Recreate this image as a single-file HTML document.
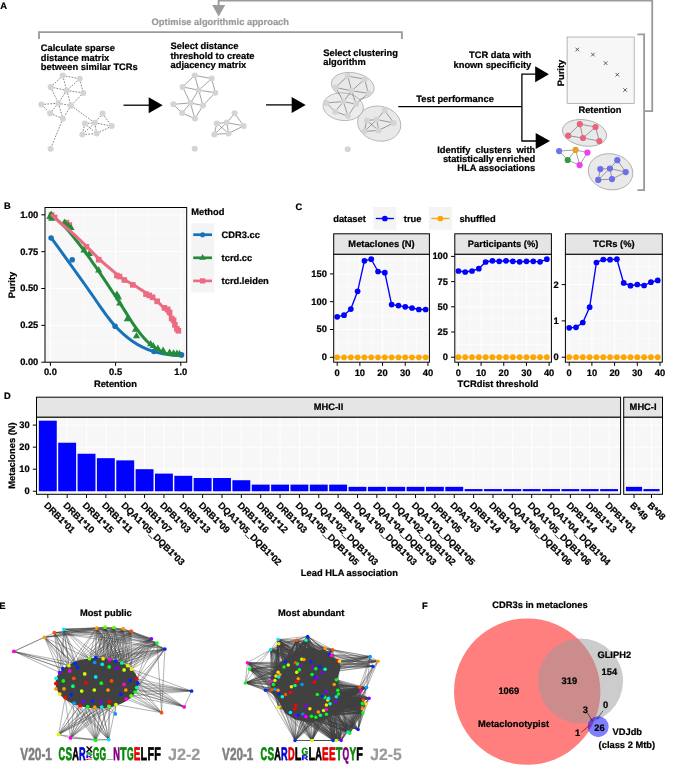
<!DOCTYPE html>
<html><head><meta charset="utf-8"><title>Figure</title>
<style>
html,body{margin:0;padding:0;background:#fff;}
body{width:685px;height:765px;overflow:hidden;}
svg{display:block;font-family:"Liberation Sans",sans-serif;font-weight:bold;will-change:transform;opacity:0.999;text-rendering:geometricPrecision;}
</style></head><body>
<svg width="685" height="765" viewBox="0 0 685 765">
<rect x="0" y="0" width="685" height="765" fill="#ffffff"/>
<g id="panelA">
<text x="0.30" y="9.10" text-anchor="start" fill="#000" stroke="#000" stroke-width="0.22" font-size="9.33" >A</text>
<path d="M218.6,5.5 L218.6,0.6 L652.2,0.6 L652.2,111.1 L644.1,111.1" fill="none" stroke="#9b9b9b" stroke-width="1.85"/>
<polygon points="212.2,5 225.2,5 218.7,16.4" fill="#9b9b9b"/>
<text x="151.60" y="24.80" text-anchor="start" fill="#9b9b9b" stroke="#9b9b9b" stroke-width="0.22" font-size="9.33" >Optimise algorithmic approach</text>
<path d="M39.0,38.9 L39.0,32.1 L401.9,32.1 L401.9,38.9" fill="none" stroke="#9b9b9b" stroke-width="1.85"/>
<path d="M637.4,34.3 L644.1,34.3 L644.1,190.1 L637.4,190.1" fill="none" stroke="#9b9b9b" stroke-width="1.85"/>
<text x="40.80" y="51.30" text-anchor="start" fill="#000" stroke="#000" stroke-width="0.22" font-size="9.33" >Calculate sparse</text>
<text x="40.80" y="60.60" text-anchor="start" fill="#000" stroke="#000" stroke-width="0.22" font-size="9.33" >distance matrix</text>
<text x="40.80" y="69.90" text-anchor="start" fill="#000" stroke="#000" stroke-width="0.22" font-size="9.33" >between similar TCRs</text>
<text x="170.50" y="49.30" text-anchor="start" fill="#000" stroke="#000" stroke-width="0.22" font-size="9.33" >Select distance</text>
<text x="170.50" y="58.70" text-anchor="start" fill="#000" stroke="#000" stroke-width="0.22" font-size="9.33" >threshold to create</text>
<text x="170.50" y="68.10" text-anchor="start" fill="#000" stroke="#000" stroke-width="0.22" font-size="9.33" >adjacency matrix</text>
<text x="323.30" y="55.90" text-anchor="start" fill="#000" stroke="#000" stroke-width="0.22" font-size="9.33" >Select clustering</text>
<text x="323.30" y="65.30" text-anchor="start" fill="#000" stroke="#000" stroke-width="0.22" font-size="9.33" >algorithm</text>
<path d="M62.7,75.6L79.7,78.8M62.7,75.6L50.6,87.1M62.7,75.6L66.7,90.4M79.7,78.8L66.7,90.4M79.7,78.8L83.3,92.9M50.6,87.1L66.7,90.4M66.7,90.4L83.3,92.9M50.6,87.1L58.4,103.2M66.7,90.4L58.4,103.2M66.7,90.4L71.0,105.7M83.3,92.9L71.0,105.7M41.3,104.5L58.4,103.2M58.4,103.2L71.0,105.7M41.3,104.5L50.1,113.3M58.4,103.2L50.1,113.3M58.4,103.2L62.9,118.8M71.0,105.7L62.9,118.8M50.1,113.3L62.9,118.8M102.6,113.5L94.8,122.8M102.6,113.5L111.7,126.1M84.8,123.6L94.8,122.8M94.8,122.8L111.7,126.1M84.8,123.6L82.3,134.6M94.8,122.8L82.3,134.6M94.8,122.8L96.6,133.6M111.7,126.1L96.6,133.6M82.3,134.6L96.6,133.6M84.8,123.6L96.6,133.6M62.9,118.8L50.6,148.7M71.0,105.7L94.8,122.8" fill="none" stroke="#333" stroke-width="0.6" stroke-dasharray="1.7 1.3"/>
<circle cx="62.7" cy="75.6" r="3" fill="#d4d4d4"/>
<circle cx="79.7" cy="78.8" r="3" fill="#d4d4d4"/>
<circle cx="50.6" cy="87.1" r="3" fill="#d4d4d4"/>
<circle cx="66.7" cy="90.4" r="3" fill="#d4d4d4"/>
<circle cx="83.3" cy="92.9" r="3" fill="#d4d4d4"/>
<circle cx="41.3" cy="104.5" r="3" fill="#d4d4d4"/>
<circle cx="58.4" cy="103.2" r="3" fill="#d4d4d4"/>
<circle cx="71.0" cy="105.7" r="3" fill="#d4d4d4"/>
<circle cx="50.1" cy="113.3" r="3" fill="#d4d4d4"/>
<circle cx="62.9" cy="118.8" r="3" fill="#d4d4d4"/>
<circle cx="50.6" cy="148.7" r="3" fill="#d4d4d4"/>
<circle cx="102.6" cy="113.5" r="3" fill="#d4d4d4"/>
<circle cx="84.8" cy="123.6" r="3" fill="#d4d4d4"/>
<circle cx="94.8" cy="122.8" r="3" fill="#d4d4d4"/>
<circle cx="111.7" cy="126.1" r="3" fill="#d4d4d4"/>
<circle cx="82.3" cy="134.6" r="3" fill="#d4d4d4"/>
<circle cx="96.6" cy="133.6" r="3" fill="#d4d4d4"/>
<path d="M194.7,75.4L211.7,78.6M194.7,75.4L182.6,86.9M194.7,75.4L198.7,90.2M211.7,78.6L198.7,90.2M211.7,78.6L215.3,92.7M182.6,86.9L198.7,90.2M198.7,90.2L215.3,92.7M182.6,86.9L190.4,103.0M198.7,90.2L190.4,103.0M198.7,90.2L203.0,105.5M215.3,92.7L203.0,105.5M173.3,104.3L190.4,103.0M190.4,103.0L203.0,105.5M173.3,104.3L182.1,113.1M190.4,103.0L182.1,113.1M190.4,103.0L194.9,118.6M203.0,105.5L194.9,118.6M182.1,113.1L194.9,118.6M234.6,113.3L226.8,122.6M234.6,113.3L243.7,125.9M216.8,123.4L226.8,122.6M226.8,122.6L243.7,125.9M216.8,123.4L214.3,134.4M226.8,122.6L214.3,134.4M226.8,122.6L228.6,133.4M243.7,125.9L228.6,133.4M214.3,134.4L228.6,133.4M216.8,123.4L228.6,133.4" fill="none" stroke="#555" stroke-width="0.55"/>
<circle cx="194.7" cy="75.4" r="3" fill="#d4d4d4"/>
<circle cx="211.7" cy="78.6" r="3" fill="#d4d4d4"/>
<circle cx="182.6" cy="86.9" r="3" fill="#d4d4d4"/>
<circle cx="198.7" cy="90.2" r="3" fill="#d4d4d4"/>
<circle cx="215.3" cy="92.7" r="3" fill="#d4d4d4"/>
<circle cx="173.3" cy="104.3" r="3" fill="#d4d4d4"/>
<circle cx="190.4" cy="103.0" r="3" fill="#d4d4d4"/>
<circle cx="203.0" cy="105.5" r="3" fill="#d4d4d4"/>
<circle cx="182.1" cy="113.1" r="3" fill="#d4d4d4"/>
<circle cx="194.9" cy="118.6" r="3" fill="#d4d4d4"/>
<circle cx="194.7" cy="148.7" r="3" fill="#d4d4d4"/>
<circle cx="234.6" cy="113.3" r="3" fill="#d4d4d4"/>
<circle cx="216.8" cy="123.4" r="3" fill="#d4d4d4"/>
<circle cx="226.8" cy="122.6" r="3" fill="#d4d4d4"/>
<circle cx="243.7" cy="125.9" r="3" fill="#d4d4d4"/>
<circle cx="214.3" cy="134.4" r="3" fill="#d4d4d4"/>
<circle cx="228.6" cy="133.4" r="3" fill="#d4d4d4"/>
<g fill="#e9e9e9" stroke="#8c8c8c" stroke-width="0.55">
<ellipse cx="352.8" cy="85.9" rx="21.6" ry="13.2" transform="rotate(10 352.8 85.9)"/>
<ellipse cx="379.2" cy="123.6" rx="21.8" ry="17.4" transform="rotate(12 379.2 123.6)"/>
<ellipse cx="343.2" cy="106.7" rx="20.2" ry="13.8" transform="rotate(6 343.2 106.7)" fill-opacity="0.85"/>
</g>
<path d="M347.7,76.0L364.7,79.2M347.7,76.0L335.6,87.5M347.7,76.0L351.7,90.8M364.7,79.2L351.7,90.8M364.7,79.2L368.3,93.3M335.6,87.5L351.7,90.8M351.7,90.8L368.3,93.3M335.6,87.5L343.4,101.6M351.7,90.8L343.4,101.6M351.7,90.8L356.0,104.1M368.3,93.3L356.0,104.1M326.3,102.9L343.4,101.6M343.4,101.6L356.0,104.1M326.3,102.9L335.1,111.7M343.4,101.6L335.1,111.7M343.4,101.6L347.9,116.0M356.0,104.1L347.9,116.0M335.1,111.7L347.9,116.0M384.6,110.3L376.8,119.6M384.6,110.3L393.7,122.9M366.8,120.4L376.8,119.6M376.8,119.6L393.7,122.9M366.8,120.4L364.3,131.4M376.8,119.6L364.3,131.4M376.8,119.6L378.6,130.4M393.7,122.9L378.6,130.4M364.3,131.4L378.6,130.4M366.8,120.4L378.6,130.4" fill="none" stroke="#555" stroke-width="0.55"/>
<circle cx="347.7" cy="76.0" r="3" fill="#d4d4d4"/>
<circle cx="364.7" cy="79.2" r="3" fill="#d4d4d4"/>
<circle cx="335.6" cy="87.5" r="3" fill="#d4d4d4"/>
<circle cx="351.7" cy="90.8" r="3" fill="#d4d4d4"/>
<circle cx="368.3" cy="93.3" r="3" fill="#d4d4d4"/>
<circle cx="326.3" cy="102.9" r="3" fill="#d4d4d4"/>
<circle cx="343.4" cy="101.6" r="3" fill="#d4d4d4"/>
<circle cx="356.0" cy="104.1" r="3" fill="#d4d4d4"/>
<circle cx="335.1" cy="111.7" r="3" fill="#d4d4d4"/>
<circle cx="347.9" cy="116.0" r="3" fill="#d4d4d4"/>
<circle cx="347.7" cy="149.3" r="3" fill="#d4d4d4"/>
<circle cx="384.6" cy="110.3" r="3" fill="#d4d4d4"/>
<circle cx="366.8" cy="120.4" r="3" fill="#d4d4d4"/>
<circle cx="376.8" cy="119.6" r="3" fill="#d4d4d4"/>
<circle cx="393.7" cy="122.9" r="3" fill="#d4d4d4"/>
<circle cx="364.3" cy="131.4" r="3" fill="#d4d4d4"/>
<circle cx="378.6" cy="130.4" r="3" fill="#d4d4d4"/>
<line x1="123.5" y1="105.2" x2="149.7" y2="105.2" stroke="#000" stroke-width="1.3"/>
<polygon points="148.7,97.2 148.7,113.2 162.7,105.2" fill="#000"/>
<line x1="266" y1="104.9" x2="292.7" y2="104.9" stroke="#000" stroke-width="1.3"/>
<polygon points="291.7,96.9 291.7,112.9 305.7,104.9" fill="#000"/>
<path d="M398.3,106.6 L521.9,106.6 M521.9,74.1 L521.9,141 M521.3,74.1 L536,74.1 M521.3,141 L536,141" fill="none" stroke="#000" stroke-width="1.3"/>
<polygon points="535.2,66.3 535.2,82.2 548.9,74.2" fill="#000"/>
<polygon points="535.7,133 535.7,148.9 550,140.9" fill="#000"/>
<text x="416.30" y="101.70" text-anchor="start" fill="#000" stroke="#000" stroke-width="0.22" font-size="9.33" >Test performance</text>
<text x="531.30" y="58.40" text-anchor="end" fill="#000" stroke="#000" stroke-width="0.22" font-size="9.33" >TCR data with</text>
<text x="531.30" y="67.80" text-anchor="end" fill="#000" stroke="#000" stroke-width="0.22" font-size="9.33" >known specificity</text>
<text x="535.20" y="152.70" text-anchor="end" fill="#000" stroke="#000" stroke-width="0.22" font-size="9.33" xml:space="preserve" style="white-space:pre">Identify  clusters  with</text>
<text x="535.20" y="162.00" text-anchor="end" fill="#000" stroke="#000" stroke-width="0.22" font-size="9.33" >statistically enriched</text>
<text x="535.20" y="171.30" text-anchor="end" fill="#000" stroke="#000" stroke-width="0.22" font-size="9.33" >HLA associations</text>
<rect x="567.1" y="37" width="67.1" height="66.3" fill="#f7f7f7" stroke="#999" stroke-width="0.7"/>
<path d="M575.5,47.7L579.0999999999999,51.3M575.5,51.3L579.0999999999999,47.7M591.1,52.800000000000004L594.6999999999999,56.4M591.1,56.4L594.6999999999999,52.800000000000004M603.8000000000001,61.300000000000004L607.4,64.9M603.8000000000001,64.9L607.4,61.300000000000004M615.5,72.9L619.0999999999999,76.5M615.5,76.5L619.0999999999999,72.9M623.3000000000001,88.2L626.9,91.8M623.3000000000001,91.8L626.9,88.2" stroke="#111" stroke-width="0.65" fill="none"/>
<text x="599.90" y="113.40" text-anchor="middle" fill="#000" stroke="#000" stroke-width="0.22" font-size="9.33" >Retention</text>
<text stroke="#000" stroke-width="0.22" transform="translate(563.9,73) rotate(-90)" text-anchor="middle" font-size="9.33">Purity</text>
<g fill="#e9e9e9" stroke="#777" stroke-width="0.5">
<ellipse cx="584.5" cy="132.9" rx="22.3" ry="13.0" transform="rotate(10 584.5 132.9)"/>
<ellipse cx="610.6" cy="171.8" rx="22.4" ry="18.0" transform="rotate(10 610.6 171.8)"/>
</g>
<path d="M579.8,124.1L595.5,127M579.8,124.1L568.2,135.7M579.8,124.1L583,138M595.5,127L583,138M595.5,127L599.3,141M568.2,135.7L583,138M583,138L599.3,141M559.1,151.1L575.6,149.9M575.6,149.9L587.4,152.6M575.6,149.9L567.7,160M575.6,149.9L579.6,165.1M587.4,152.6L579.6,165.1M567.7,160L579.6,165.1M559.1,151.1L567.7,160M617.3,160.2L609.9,168.5M617.3,160.2L625.7,172.1M600.3,169.1L609.9,168.5M609.9,168.5L625.7,172.1M600.3,169.1L598.2,179.9M609.9,168.5L598.2,179.9M609.9,168.5L612,179.1M625.7,172.1L612,179.1M598.2,179.9L612,179.1" stroke="#444" stroke-width="0.5" fill="none"/>
<circle cx="579.8" cy="124.1" r="3.1" fill="#e8647f"/>
<circle cx="595.5" cy="127" r="3.1" fill="#e8647f"/>
<circle cx="568.2" cy="135.7" r="3.1" fill="#e8647f"/>
<circle cx="583" cy="138" r="3.1" fill="#e8647f"/>
<circle cx="599.3" cy="141" r="3.1" fill="#e8647f"/>
<circle cx="559.1" cy="151.1" r="3.1" fill="#6f73e6"/>
<circle cx="575.6" cy="149.9" r="3.1" fill="#e6a02d"/>
<circle cx="587.4" cy="152.6" r="3.1" fill="#f23df0"/>
<circle cx="567.7" cy="160" r="3.1" fill="#2e9e3c"/>
<circle cx="579.6" cy="165.1" r="3.1" fill="#f23df0"/>
<circle cx="617.3" cy="160.2" r="3.1" fill="#6b70e8"/>
<circle cx="600.3" cy="169.1" r="3.1" fill="#6b70e8"/>
<circle cx="609.9" cy="168.5" r="3.1" fill="#6b70e8"/>
<circle cx="625.7" cy="172.1" r="3.1" fill="#6b70e8"/>
<circle cx="598.2" cy="179.9" r="3.1" fill="#6b70e8"/>
<circle cx="612" cy="179.1" r="3.1" fill="#6b70e8"/>
</g>
<g id="panelB">
<text x="3.90" y="209.40" text-anchor="start" fill="#000" stroke="#000" stroke-width="0.22" font-size="9.33" >B</text>
<rect x="45.0" y="207.5" width="141.7" height="154.7" fill="#f7f7f7"/>
<path d="M83.00,207.5V362.2M148.20,207.5V362.2M45.0,343.77H186.7M45.0,306.93H186.7M45.0,270.07H186.7M45.0,233.23H186.7" stroke="#fff" stroke-width="0.5" fill="none"/>
<path d="M50.40,207.5V362.2M115.60,207.5V362.2M180.80,207.5V362.2M45.0,325.35H186.7M45.0,288.50H186.7M45.0,251.65H186.7M45.0,214.80H186.7" stroke="#fff" stroke-width="1" fill="none"/>
<rect x="48.80" y="212.20" width="5.6" height="5.6" fill="#ec6a82"/>
<rect x="51.80" y="214.60" width="5.6" height="5.6" fill="#ec6a82"/>
<rect x="63.60" y="219.80" width="5.6" height="5.6" fill="#ec6a82"/>
<rect x="66.50" y="222.20" width="5.6" height="5.6" fill="#ec6a82"/>
<rect x="83.60" y="244.00" width="5.6" height="5.6" fill="#ec6a82"/>
<rect x="95.90" y="256.90" width="5.6" height="5.6" fill="#ec6a82"/>
<rect x="114.10" y="272.70" width="5.6" height="5.6" fill="#ec6a82"/>
<rect x="116.70" y="273.80" width="5.6" height="5.6" fill="#ec6a82"/>
<rect x="121.50" y="277.20" width="5.6" height="5.6" fill="#ec6a82"/>
<rect x="130.00" y="282.10" width="5.6" height="5.6" fill="#ec6a82"/>
<rect x="143.20" y="291.30" width="5.6" height="5.6" fill="#ec6a82"/>
<rect x="146.50" y="292.60" width="5.6" height="5.6" fill="#ec6a82"/>
<rect x="149.80" y="294.50" width="5.6" height="5.6" fill="#ec6a82"/>
<rect x="154.40" y="298.50" width="5.6" height="5.6" fill="#ec6a82"/>
<rect x="161.60" y="305.00" width="5.6" height="5.6" fill="#ec6a82"/>
<rect x="164.90" y="306.60" width="5.6" height="5.6" fill="#ec6a82"/>
<rect x="166.80" y="309.60" width="5.6" height="5.6" fill="#ec6a82"/>
<rect x="168.80" y="315.60" width="5.6" height="5.6" fill="#ec6a82"/>
<rect x="170.80" y="317.50" width="5.6" height="5.6" fill="#ec6a82"/>
<rect x="172.10" y="322.10" width="5.6" height="5.6" fill="#ec6a82"/>
<rect x="174.10" y="326.10" width="5.6" height="5.6" fill="#ec6a82"/>
<rect x="175.60" y="328.00" width="5.6" height="5.6" fill="#ec6a82"/>
<polygon points="51.10,210.40 47.50,216.60 54.70,216.60" fill="#238b3a"/>
<polygon points="49.90,212.80 46.30,219.00 53.50,219.00" fill="#238b3a"/>
<polygon points="51.60,214.50 48.00,220.70 55.20,220.70" fill="#238b3a"/>
<polygon points="64.60,218.60 61.00,224.80 68.20,224.80" fill="#238b3a"/>
<polygon points="68.10,221.60 64.50,227.80 71.70,227.80" fill="#238b3a"/>
<polygon points="71.10,223.90 67.50,230.10 74.70,230.10" fill="#238b3a"/>
<polygon points="84.00,246.30 80.40,252.50 87.60,252.50" fill="#238b3a"/>
<polygon points="89.30,249.80 85.70,256.00 92.90,256.00" fill="#238b3a"/>
<polygon points="98.70,266.30 95.10,272.50 102.30,272.50" fill="#238b3a"/>
<polygon points="116.90,290.40 113.30,296.60 120.50,296.60" fill="#238b3a"/>
<polygon points="118.40,293.30 114.80,299.50 122.00,299.50" fill="#238b3a"/>
<polygon points="119.70,299.20 116.10,305.40 123.30,305.40" fill="#238b3a"/>
<polygon points="127.30,315.00 123.70,321.20 130.90,321.20" fill="#238b3a"/>
<polygon points="135.50,325.50 131.90,331.70 139.10,331.70" fill="#238b3a"/>
<polygon points="136.50,332.10 132.90,338.30 140.10,338.30" fill="#238b3a"/>
<polygon points="150.60,340.00 147.00,346.20 154.20,346.20" fill="#238b3a"/>
<polygon points="153.20,341.90 149.60,348.10 156.80,348.10" fill="#238b3a"/>
<polygon points="157.80,344.60 154.20,350.80 161.40,350.80" fill="#238b3a"/>
<polygon points="163.10,346.50 159.50,352.70 166.70,352.70" fill="#238b3a"/>
<polygon points="169.60,348.50 166.00,354.70 173.20,354.70" fill="#238b3a"/>
<polygon points="173.60,349.20 170.00,355.40 177.20,355.40" fill="#238b3a"/>
<polygon points="176.90,349.60 173.30,355.80 180.50,355.80" fill="#238b3a"/>
<polygon points="179.50,349.80 175.90,356.00 183.10,356.00" fill="#238b3a"/>
<circle cx="51.10" cy="238.00" r="2.8" fill="#1673b9"/>
<circle cx="72.20" cy="259.70" r="2.8" fill="#1673b9"/>
<circle cx="115.10" cy="326.20" r="2.8" fill="#1673b9"/>
<circle cx="153.90" cy="351.50" r="2.8" fill="#1673b9"/>
<circle cx="181.50" cy="354.90" r="2.8" fill="#1673b9"/>
<path d="M51.10,237.60C52.85,240.02 57.88,246.95 61.60,252.10C65.32,257.25 69.47,263.02 73.40,268.50C77.33,273.98 82.07,280.58 85.20,285.00C88.33,289.42 89.73,291.45 92.20,295.00C94.67,298.55 97.38,302.60 100.00,306.30C102.62,310.00 105.38,313.92 107.90,317.20C110.42,320.48 112.47,323.15 115.10,326.00C117.73,328.85 120.75,331.73 123.70,334.30C126.65,336.87 129.75,339.32 132.80,341.40C135.85,343.48 138.70,345.17 142.00,346.80C145.30,348.43 149.08,350.02 152.60,351.20C156.12,352.38 159.60,353.23 163.10,353.90C166.60,354.57 170.53,354.97 173.60,355.20C176.67,355.43 180.18,355.28 181.50,355.30" fill="none" stroke="#1673b9" stroke-width="3.0" stroke-linecap="butt"/>
<path d="M51.10,214.40C52.42,215.58 56.27,218.95 59.00,221.50C61.73,224.05 64.12,225.92 67.50,229.70C70.88,233.48 76.35,240.48 79.30,244.20C82.25,247.92 83.23,249.32 85.20,252.00C87.17,254.68 88.75,256.95 91.10,260.30C93.45,263.65 96.75,268.38 99.30,272.10C101.85,275.82 103.85,278.78 106.40,282.60C108.95,286.42 112.60,292.00 114.60,295.00C116.60,298.00 116.45,297.58 118.40,300.60C120.35,303.62 123.67,308.97 126.30,313.10C128.93,317.23 131.58,321.62 134.20,325.40C136.82,329.18 139.38,332.70 142.00,335.80C144.62,338.90 147.27,341.68 149.90,344.00C152.53,346.32 155.17,348.15 157.80,349.70C160.43,351.25 163.07,352.40 165.70,353.30C168.33,354.20 170.97,354.68 173.60,355.10C176.23,355.52 180.18,355.68 181.50,355.80" fill="none" stroke="#238b3a" stroke-width="3.0"/>
<path d="M51.10,214.40C52.85,215.97 57.88,220.57 61.60,223.80C65.32,227.03 69.47,230.27 73.40,233.80C77.33,237.33 81.28,241.17 85.20,245.00C89.12,248.83 92.98,253.07 96.90,256.80C100.82,260.53 105.37,264.47 108.70,267.40C112.03,270.33 114.35,272.38 116.90,274.40C119.45,276.42 121.12,277.70 124.00,279.50C126.88,281.30 130.75,283.10 134.20,285.20C137.65,287.30 141.20,289.70 144.70,292.10C148.20,294.50 152.13,297.08 155.20,299.60C158.27,302.12 160.70,304.70 163.10,307.20C165.50,309.70 167.85,312.30 169.60,314.60C171.35,316.90 172.50,318.90 173.60,321.00C174.70,323.10 175.37,325.45 176.20,327.20C177.03,328.95 178.20,330.78 178.60,331.50" fill="none" stroke="#ec6a82" stroke-width="3.0"/>
<rect x="45.0" y="207.5" width="141.7" height="154.7" fill="none" stroke="#000" stroke-width="1"/>
<text x="38.30" y="365.10" text-anchor="end" fill="#000" stroke="#000" stroke-width="0.22" font-size="9.33" >0.00</text>
<text x="38.30" y="328.25" text-anchor="end" fill="#000" stroke="#000" stroke-width="0.22" font-size="9.33" >0.25</text>
<text x="38.30" y="291.40" text-anchor="end" fill="#000" stroke="#000" stroke-width="0.22" font-size="9.33" >0.50</text>
<text x="38.30" y="254.55" text-anchor="end" fill="#000" stroke="#000" stroke-width="0.22" font-size="9.33" >0.75</text>
<text x="38.30" y="217.70" text-anchor="end" fill="#000" stroke="#000" stroke-width="0.22" font-size="9.33" >1.00</text>
<text x="50.40" y="375.10" text-anchor="middle" fill="#000" stroke="#000" stroke-width="0.22" font-size="9.33" >0.0</text>
<text x="115.60" y="375.10" text-anchor="middle" fill="#000" stroke="#000" stroke-width="0.22" font-size="9.33" >0.5</text>
<text x="180.80" y="375.10" text-anchor="middle" fill="#000" stroke="#000" stroke-width="0.22" font-size="9.33" >1.0</text>
<path d="M41.3,362.20H45.0M41.3,325.35H45.0M41.3,288.50H45.0M41.3,251.65H45.0M41.3,214.80H45.0M50.40,362.2v3.7M115.60,362.2v3.7M180.80,362.2v3.7" stroke="#000" stroke-width="1" fill="none"/>
<text x="115.40" y="386.70" text-anchor="middle" fill="#000" stroke="#000" stroke-width="0.22" font-size="9.33" >Retention</text>
<text stroke="#000" stroke-width="0.22" transform="translate(14.7,285) rotate(-90)" text-anchor="middle" font-size="9.33">Purity</text>
<text x="191.20" y="214.80" text-anchor="start" fill="#000" stroke="#000" stroke-width="0.22" font-size="9.33" >Method</text>
<rect x="191.2" y="223.2" width="23.2" height="69.2" fill="#f4f4f4"/>
<line x1="193.2" x2="212" y1="234.7" y2="234.7" stroke="#1673b9" stroke-width="2.7"/>
<circle cx="202.6" cy="234.7" r="2.55" fill="#1673b9"/>
<text x="221.60" y="237.90" text-anchor="start" fill="#000" stroke="#000" stroke-width="0.22" font-size="9.33" >CDR3.cc</text>
<line x1="193.2" x2="212" y1="257.8" y2="257.8" stroke="#238b3a" stroke-width="2.7"/>
<polygon points="202.6,254.10000000000002 199.29999999999998,259.8 205.9,259.8" fill="#238b3a"/>
<text x="221.60" y="261.00" text-anchor="start" fill="#000" stroke="#000" stroke-width="0.22" font-size="9.33" >tcrd.cc</text>
<line x1="193.2" x2="212" y1="280.9" y2="280.9" stroke="#ec6a82" stroke-width="2.7"/>
<rect x="200.0" y="278.29999999999995" width="5.2" height="5.2" fill="#ec6a82"/>
<text x="221.60" y="284.10" text-anchor="start" fill="#000" stroke="#000" stroke-width="0.22" font-size="9.33" >tcrd.leiden</text>
</g>
<g id="panelC">
<text x="295.60" y="209.50" text-anchor="start" fill="#000" stroke="#000" stroke-width="0.22" font-size="9.33" >C</text>
<text x="333.20" y="221.60" text-anchor="start" fill="#000" stroke="#000" stroke-width="0.22" font-size="9.33" >dataset</text>
<rect x="373.4" y="207.0" width="22.9" height="22.9" fill="#f4f4f4"/>
<line x1="375.8" x2="393.9" y1="218.5" y2="218.5" stroke="#0000ff" stroke-width="1.35"/><circle cx="384.85" cy="218.5" r="2.85" fill="#0000ff"/>
<text x="403.80" y="221.60" text-anchor="start" fill="#000" stroke="#000" stroke-width="0.22" font-size="9.33" >true</text>
<rect x="428.9" y="207.0" width="22.9" height="22.9" fill="#f4f4f4"/>
<line x1="431.3" x2="449.4" y1="218.5" y2="218.5" stroke="#ffa500" stroke-width="1.35"/><circle cx="440.35" cy="218.5" r="2.85" fill="#ffa500"/>
<text x="459.40" y="221.60" text-anchor="start" fill="#000" stroke="#000" stroke-width="0.22" font-size="9.33" >shuffled</text>
<rect x="333.7" y="254.2" width="95.70" height="108.00" fill="#f7f7f7"/>
<path d="M348.54,254.2V362.2M371.22,254.2V362.2M393.90,254.2V362.2M416.58,254.2V362.2M333.7,343.40H429.4M333.7,315.60H429.4M333.7,287.80H429.4M333.7,260.00H429.4" stroke="#fff" stroke-width="0.5" fill="none"/>
<path d="M337.20,254.2V362.2M359.88,254.2V362.2M382.56,254.2V362.2M405.24,254.2V362.2M427.92,254.2V362.2M333.7,357.30H429.4M333.7,329.50H429.4M333.7,301.70H429.4M333.7,273.90H429.4" stroke="#fff" stroke-width="1" fill="none"/>
<polyline points="337.20,316.80 344.00,315.20 350.81,309.10 357.61,291.30 364.42,260.80 371.22,259.20 378.02,271.50 384.83,272.70 391.63,304.60 398.44,305.60 405.24,306.80 412.04,308.00 418.85,309.50 425.65,309.50" fill="none" stroke="#0000ff" stroke-width="1.35"/>
<line x1="337.20" x2="425.65" y1="357.3" y2="357.3" stroke="#ffa500" stroke-width="1.1"/>
<circle cx="337.20" cy="316.80" r="2.85" fill="#0000ff"/>
<circle cx="344.00" cy="315.20" r="2.85" fill="#0000ff"/>
<circle cx="350.81" cy="309.10" r="2.85" fill="#0000ff"/>
<circle cx="357.61" cy="291.30" r="2.85" fill="#0000ff"/>
<circle cx="364.42" cy="260.80" r="2.85" fill="#0000ff"/>
<circle cx="371.22" cy="259.20" r="2.85" fill="#0000ff"/>
<circle cx="378.02" cy="271.50" r="2.85" fill="#0000ff"/>
<circle cx="384.83" cy="272.70" r="2.85" fill="#0000ff"/>
<circle cx="391.63" cy="304.60" r="2.85" fill="#0000ff"/>
<circle cx="398.44" cy="305.60" r="2.85" fill="#0000ff"/>
<circle cx="405.24" cy="306.80" r="2.85" fill="#0000ff"/>
<circle cx="412.04" cy="308.00" r="2.85" fill="#0000ff"/>
<circle cx="418.85" cy="309.50" r="2.85" fill="#0000ff"/>
<circle cx="425.65" cy="309.50" r="2.85" fill="#0000ff"/>
<circle cx="337.20" cy="357.3" r="2.85" fill="#ffa500"/>
<circle cx="344.00" cy="357.3" r="2.85" fill="#ffa500"/>
<circle cx="350.81" cy="357.3" r="2.85" fill="#ffa500"/>
<circle cx="357.61" cy="357.3" r="2.85" fill="#ffa500"/>
<circle cx="364.42" cy="357.3" r="2.85" fill="#ffa500"/>
<circle cx="371.22" cy="357.3" r="2.85" fill="#ffa500"/>
<circle cx="378.02" cy="357.3" r="2.85" fill="#ffa500"/>
<circle cx="384.83" cy="357.3" r="2.85" fill="#ffa500"/>
<circle cx="391.63" cy="357.3" r="2.85" fill="#ffa500"/>
<circle cx="398.44" cy="357.3" r="2.85" fill="#ffa500"/>
<circle cx="405.24" cy="357.3" r="2.85" fill="#ffa500"/>
<circle cx="412.04" cy="357.3" r="2.85" fill="#ffa500"/>
<circle cx="418.85" cy="357.3" r="2.85" fill="#ffa500"/>
<circle cx="425.65" cy="357.3" r="2.85" fill="#ffa500"/>
<rect x="333.7" y="254.2" width="95.70" height="108.00" fill="none" stroke="#000" stroke-width="1"/>
<rect x="333.7" y="233.8" width="95.70" height="20.40" fill="#e5e5e5" stroke="#000" stroke-width="1"/>
<text x="381.55" y="247.40" text-anchor="middle" fill="#000" stroke="#000" stroke-width="0.22" font-size="9.33" >Metaclones (N)</text>
<text x="326.90" y="360.20" text-anchor="end" fill="#000" stroke="#000" stroke-width="0.22" font-size="9.33" >0</text>
<text x="326.90" y="332.40" text-anchor="end" fill="#000" stroke="#000" stroke-width="0.22" font-size="9.33" >50</text>
<text x="326.90" y="304.60" text-anchor="end" fill="#000" stroke="#000" stroke-width="0.22" font-size="9.33" >100</text>
<text x="326.90" y="276.80" text-anchor="end" fill="#000" stroke="#000" stroke-width="0.22" font-size="9.33" >150</text>
<text x="337.20" y="375.80" text-anchor="middle" fill="#000" stroke="#000" stroke-width="0.22" font-size="9.33" >0</text>
<text x="359.88" y="375.80" text-anchor="middle" fill="#000" stroke="#000" stroke-width="0.22" font-size="9.33" >10</text>
<text x="382.56" y="375.80" text-anchor="middle" fill="#000" stroke="#000" stroke-width="0.22" font-size="9.33" >20</text>
<text x="405.24" y="375.80" text-anchor="middle" fill="#000" stroke="#000" stroke-width="0.22" font-size="9.33" >30</text>
<text x="427.92" y="375.80" text-anchor="middle" fill="#000" stroke="#000" stroke-width="0.22" font-size="9.33" >40</text>
<path d="M330.0,357.30H333.7M330.0,329.50H333.7M330.0,301.70H333.7M330.0,273.90H333.7M337.20,362.2v3.7M359.88,362.2v3.7M382.56,362.2v3.7M405.24,362.2v3.7M427.92,362.2v3.7" stroke="#000" stroke-width="1" fill="none"/>
<rect x="454.8" y="254.2" width="96.60" height="108.00" fill="#f7f7f7"/>
<path d="M469.74,254.2V362.2M492.42,254.2V362.2M515.10,254.2V362.2M537.78,254.2V362.2M454.8,344.60H551.4M454.8,319.40H551.4M454.8,294.20H551.4M454.8,269.00H551.4" stroke="#fff" stroke-width="0.5" fill="none"/>
<path d="M458.40,254.2V362.2M481.08,254.2V362.2M503.76,254.2V362.2M526.44,254.2V362.2M549.12,254.2V362.2M454.8,357.20H551.4M454.8,332.00H551.4M454.8,306.80H551.4M454.8,281.60H551.4M454.8,256.40H551.4" stroke="#fff" stroke-width="1" fill="none"/>
<polyline points="458.40,271.00 465.20,272.00 472.01,271.00 478.81,268.70 485.62,262.00 492.42,260.80 499.22,261.30 506.03,260.80 512.83,261.30 519.64,261.80 526.44,261.30 533.24,261.30 540.05,261.80 546.85,259.20" fill="none" stroke="#0000ff" stroke-width="1.35"/>
<line x1="458.40" x2="546.85" y1="357.2" y2="357.2" stroke="#ffa500" stroke-width="1.1"/>
<circle cx="458.40" cy="271.00" r="2.85" fill="#0000ff"/>
<circle cx="465.20" cy="272.00" r="2.85" fill="#0000ff"/>
<circle cx="472.01" cy="271.00" r="2.85" fill="#0000ff"/>
<circle cx="478.81" cy="268.70" r="2.85" fill="#0000ff"/>
<circle cx="485.62" cy="262.00" r="2.85" fill="#0000ff"/>
<circle cx="492.42" cy="260.80" r="2.85" fill="#0000ff"/>
<circle cx="499.22" cy="261.30" r="2.85" fill="#0000ff"/>
<circle cx="506.03" cy="260.80" r="2.85" fill="#0000ff"/>
<circle cx="512.83" cy="261.30" r="2.85" fill="#0000ff"/>
<circle cx="519.64" cy="261.80" r="2.85" fill="#0000ff"/>
<circle cx="526.44" cy="261.30" r="2.85" fill="#0000ff"/>
<circle cx="533.24" cy="261.30" r="2.85" fill="#0000ff"/>
<circle cx="540.05" cy="261.80" r="2.85" fill="#0000ff"/>
<circle cx="546.85" cy="259.20" r="2.85" fill="#0000ff"/>
<circle cx="458.40" cy="357.2" r="2.85" fill="#ffa500"/>
<circle cx="465.20" cy="357.2" r="2.85" fill="#ffa500"/>
<circle cx="472.01" cy="357.2" r="2.85" fill="#ffa500"/>
<circle cx="478.81" cy="357.2" r="2.85" fill="#ffa500"/>
<circle cx="485.62" cy="357.2" r="2.85" fill="#ffa500"/>
<circle cx="492.42" cy="357.2" r="2.85" fill="#ffa500"/>
<circle cx="499.22" cy="357.2" r="2.85" fill="#ffa500"/>
<circle cx="506.03" cy="357.2" r="2.85" fill="#ffa500"/>
<circle cx="512.83" cy="357.2" r="2.85" fill="#ffa500"/>
<circle cx="519.64" cy="357.2" r="2.85" fill="#ffa500"/>
<circle cx="526.44" cy="357.2" r="2.85" fill="#ffa500"/>
<circle cx="533.24" cy="357.2" r="2.85" fill="#ffa500"/>
<circle cx="540.05" cy="357.2" r="2.85" fill="#ffa500"/>
<circle cx="546.85" cy="357.2" r="2.85" fill="#ffa500"/>
<rect x="454.8" y="254.2" width="96.60" height="108.00" fill="none" stroke="#000" stroke-width="1"/>
<rect x="454.8" y="233.8" width="96.60" height="20.40" fill="#e5e5e5" stroke="#000" stroke-width="1"/>
<text x="503.10" y="247.40" text-anchor="middle" fill="#000" stroke="#000" stroke-width="0.22" font-size="9.33" >Participants (%)</text>
<text x="448.00" y="360.10" text-anchor="end" fill="#000" stroke="#000" stroke-width="0.22" font-size="9.33" >0</text>
<text x="448.00" y="334.90" text-anchor="end" fill="#000" stroke="#000" stroke-width="0.22" font-size="9.33" >25</text>
<text x="448.00" y="309.70" text-anchor="end" fill="#000" stroke="#000" stroke-width="0.22" font-size="9.33" >50</text>
<text x="448.00" y="284.50" text-anchor="end" fill="#000" stroke="#000" stroke-width="0.22" font-size="9.33" >75</text>
<text x="448.00" y="259.30" text-anchor="end" fill="#000" stroke="#000" stroke-width="0.22" font-size="9.33" >100</text>
<text x="458.40" y="375.80" text-anchor="middle" fill="#000" stroke="#000" stroke-width="0.22" font-size="9.33" >0</text>
<text x="481.08" y="375.80" text-anchor="middle" fill="#000" stroke="#000" stroke-width="0.22" font-size="9.33" >10</text>
<text x="503.76" y="375.80" text-anchor="middle" fill="#000" stroke="#000" stroke-width="0.22" font-size="9.33" >20</text>
<text x="526.44" y="375.80" text-anchor="middle" fill="#000" stroke="#000" stroke-width="0.22" font-size="9.33" >30</text>
<text x="549.12" y="375.80" text-anchor="middle" fill="#000" stroke="#000" stroke-width="0.22" font-size="9.33" >40</text>
<path d="M451.1,357.20H454.8M451.1,332.00H454.8M451.1,306.80H454.8M451.1,281.60H454.8M451.1,256.40H454.8M458.40,362.2v3.7M481.08,362.2v3.7M503.76,362.2v3.7M526.44,362.2v3.7M549.12,362.2v3.7" stroke="#000" stroke-width="1" fill="none"/>
<rect x="565.4" y="254.2" width="96.90" height="108.00" fill="#f7f7f7"/>
<path d="M580.55,254.2V362.2M603.25,254.2V362.2M625.95,254.2V362.2M648.65,254.2V362.2M565.4,339.05H662.3M565.4,302.75H662.3M565.4,266.45H662.3" stroke="#fff" stroke-width="0.5" fill="none"/>
<path d="M569.20,254.2V362.2M591.90,254.2V362.2M614.60,254.2V362.2M637.30,254.2V362.2M660.00,254.2V362.2M565.4,357.20H662.3M565.4,320.90H662.3M565.4,284.60H662.3" stroke="#fff" stroke-width="1" fill="none"/>
<polyline points="569.20,327.80 576.01,327.30 582.82,322.50 589.63,307.20 596.44,262.50 603.25,259.50 610.06,259.70 616.87,259.20 623.68,282.90 630.49,285.70 637.30,284.50 644.11,285.50 650.92,282.20 657.73,280.40" fill="none" stroke="#0000ff" stroke-width="1.35"/>
<line x1="569.20" x2="657.73" y1="357.2" y2="357.2" stroke="#ffa500" stroke-width="1.1"/>
<circle cx="569.20" cy="327.80" r="2.85" fill="#0000ff"/>
<circle cx="576.01" cy="327.30" r="2.85" fill="#0000ff"/>
<circle cx="582.82" cy="322.50" r="2.85" fill="#0000ff"/>
<circle cx="589.63" cy="307.20" r="2.85" fill="#0000ff"/>
<circle cx="596.44" cy="262.50" r="2.85" fill="#0000ff"/>
<circle cx="603.25" cy="259.50" r="2.85" fill="#0000ff"/>
<circle cx="610.06" cy="259.70" r="2.85" fill="#0000ff"/>
<circle cx="616.87" cy="259.20" r="2.85" fill="#0000ff"/>
<circle cx="623.68" cy="282.90" r="2.85" fill="#0000ff"/>
<circle cx="630.49" cy="285.70" r="2.85" fill="#0000ff"/>
<circle cx="637.30" cy="284.50" r="2.85" fill="#0000ff"/>
<circle cx="644.11" cy="285.50" r="2.85" fill="#0000ff"/>
<circle cx="650.92" cy="282.20" r="2.85" fill="#0000ff"/>
<circle cx="657.73" cy="280.40" r="2.85" fill="#0000ff"/>
<circle cx="569.20" cy="357.2" r="2.85" fill="#ffa500"/>
<circle cx="576.01" cy="357.2" r="2.85" fill="#ffa500"/>
<circle cx="582.82" cy="357.2" r="2.85" fill="#ffa500"/>
<circle cx="589.63" cy="357.2" r="2.85" fill="#ffa500"/>
<circle cx="596.44" cy="357.2" r="2.85" fill="#ffa500"/>
<circle cx="603.25" cy="357.2" r="2.85" fill="#ffa500"/>
<circle cx="610.06" cy="357.2" r="2.85" fill="#ffa500"/>
<circle cx="616.87" cy="357.2" r="2.85" fill="#ffa500"/>
<circle cx="623.68" cy="357.2" r="2.85" fill="#ffa500"/>
<circle cx="630.49" cy="357.2" r="2.85" fill="#ffa500"/>
<circle cx="637.30" cy="357.2" r="2.85" fill="#ffa500"/>
<circle cx="644.11" cy="357.2" r="2.85" fill="#ffa500"/>
<circle cx="650.92" cy="357.2" r="2.85" fill="#ffa500"/>
<circle cx="657.73" cy="357.2" r="2.85" fill="#ffa500"/>
<rect x="565.4" y="254.2" width="96.90" height="108.00" fill="none" stroke="#000" stroke-width="1"/>
<rect x="565.4" y="233.8" width="96.90" height="20.40" fill="#e5e5e5" stroke="#000" stroke-width="1"/>
<text x="613.85" y="247.40" text-anchor="middle" fill="#000" stroke="#000" stroke-width="0.22" font-size="9.33" >TCRs (%)</text>
<text x="558.60" y="360.10" text-anchor="end" fill="#000" stroke="#000" stroke-width="0.22" font-size="9.33" >0</text>
<text x="558.60" y="323.80" text-anchor="end" fill="#000" stroke="#000" stroke-width="0.22" font-size="9.33" >1</text>
<text x="558.60" y="287.50" text-anchor="end" fill="#000" stroke="#000" stroke-width="0.22" font-size="9.33" >2</text>
<text x="569.20" y="375.80" text-anchor="middle" fill="#000" stroke="#000" stroke-width="0.22" font-size="9.33" >0</text>
<text x="591.90" y="375.80" text-anchor="middle" fill="#000" stroke="#000" stroke-width="0.22" font-size="9.33" >10</text>
<text x="614.60" y="375.80" text-anchor="middle" fill="#000" stroke="#000" stroke-width="0.22" font-size="9.33" >20</text>
<text x="637.30" y="375.80" text-anchor="middle" fill="#000" stroke="#000" stroke-width="0.22" font-size="9.33" >30</text>
<text x="660.00" y="375.80" text-anchor="middle" fill="#000" stroke="#000" stroke-width="0.22" font-size="9.33" >40</text>
<path d="M561.6999999999999,357.20H565.4M561.6999999999999,320.90H565.4M561.6999999999999,284.60H565.4M569.20,362.2v3.7M591.90,362.2v3.7M614.60,362.2v3.7M637.30,362.2v3.7M660.00,362.2v3.7" stroke="#000" stroke-width="1" fill="none"/>
<text x="498.00" y="386.80" text-anchor="middle" fill="#000" stroke="#000" stroke-width="0.22" font-size="9.33" >TCRdist threshold</text>
</g>
<g id="panelD">
<text x="3.90" y="399.30" text-anchor="start" fill="#000" stroke="#000" stroke-width="0.22" font-size="9.33" >D</text>
<rect x="36.5" y="417.1" width="584.10" height="77.20" fill="#f7f7f7"/>
<path d="M36.5,480.23H620.6M36.5,458.18H620.6M36.5,436.12H620.6" stroke="#fff" stroke-width="0.5" fill="none"/>
<path d="M36.5,491.25H620.6M36.5,469.20H620.6M36.5,447.15H620.6M36.5,425.10H620.6M47.80,417.1V494.3M67.16,417.1V494.3M86.51,417.1V494.3M105.86,417.1V494.3M125.22,417.1V494.3M144.57,417.1V494.3M163.93,417.1V494.3M183.29,417.1V494.3M202.64,417.1V494.3M222.00,417.1V494.3M241.35,417.1V494.3M260.70,417.1V494.3M280.06,417.1V494.3M299.42,417.1V494.3M318.77,417.1V494.3M338.12,417.1V494.3M357.48,417.1V494.3M376.84,417.1V494.3M396.19,417.1V494.3M415.55,417.1V494.3M434.90,417.1V494.3M454.25,417.1V494.3M473.61,417.1V494.3M492.97,417.1V494.3M512.32,417.1V494.3M531.67,417.1V494.3M551.03,417.1V494.3M570.38,417.1V494.3M589.74,417.1V494.3M609.09,417.1V494.3" stroke="#fff" stroke-width="1" fill="none"/>
<rect x="38.85" y="420.69" width="17.90" height="70.56" fill="#0000ff"/>
<rect x="58.20" y="442.74" width="17.90" height="48.51" fill="#0000ff"/>
<rect x="77.56" y="453.76" width="17.90" height="37.48" fill="#0000ff"/>
<rect x="96.91" y="458.18" width="17.90" height="33.08" fill="#0000ff"/>
<rect x="116.27" y="460.38" width="17.90" height="30.87" fill="#0000ff"/>
<rect x="135.62" y="469.20" width="17.90" height="22.05" fill="#0000ff"/>
<rect x="154.98" y="473.61" width="17.90" height="17.64" fill="#0000ff"/>
<rect x="174.33" y="475.81" width="17.90" height="15.44" fill="#0000ff"/>
<rect x="193.69" y="478.02" width="17.90" height="13.23" fill="#0000ff"/>
<rect x="213.04" y="478.02" width="17.90" height="13.23" fill="#0000ff"/>
<rect x="232.40" y="480.23" width="17.90" height="11.03" fill="#0000ff"/>
<rect x="251.75" y="484.63" width="17.90" height="6.62" fill="#0000ff"/>
<rect x="271.11" y="484.63" width="17.90" height="6.62" fill="#0000ff"/>
<rect x="290.46" y="484.63" width="17.90" height="6.62" fill="#0000ff"/>
<rect x="309.82" y="484.63" width="17.90" height="6.62" fill="#0000ff"/>
<rect x="329.17" y="484.63" width="17.90" height="6.62" fill="#0000ff"/>
<rect x="348.53" y="486.84" width="17.90" height="4.41" fill="#0000ff"/>
<rect x="367.88" y="486.84" width="17.90" height="4.41" fill="#0000ff"/>
<rect x="387.24" y="486.84" width="17.90" height="4.41" fill="#0000ff"/>
<rect x="406.59" y="486.84" width="17.90" height="4.41" fill="#0000ff"/>
<rect x="425.95" y="486.84" width="17.90" height="4.41" fill="#0000ff"/>
<rect x="445.30" y="486.84" width="17.90" height="4.41" fill="#0000ff"/>
<rect x="464.66" y="489.05" width="17.90" height="2.21" fill="#0000ff"/>
<rect x="484.01" y="489.05" width="17.90" height="2.21" fill="#0000ff"/>
<rect x="503.37" y="489.05" width="17.90" height="2.21" fill="#0000ff"/>
<rect x="522.72" y="489.05" width="17.90" height="2.21" fill="#0000ff"/>
<rect x="542.08" y="489.05" width="17.90" height="2.21" fill="#0000ff"/>
<rect x="561.43" y="489.05" width="17.90" height="2.21" fill="#0000ff"/>
<rect x="580.79" y="489.05" width="17.90" height="2.21" fill="#0000ff"/>
<rect x="600.14" y="489.05" width="17.90" height="2.21" fill="#0000ff"/>
<rect x="36.5" y="417.1" width="584.10" height="77.20" fill="none" stroke="#000" stroke-width="1"/>
<rect x="36.5" y="397.2" width="584.10" height="19.90" fill="#e5e5e5" stroke="#000" stroke-width="1"/>
<text x="328.55" y="410.40" text-anchor="middle" fill="#000" stroke="#000" stroke-width="0.22" font-size="9.33" >MHC-II</text>
<text stroke="#000" stroke-width="0.22" transform="translate(43.40,505.90) rotate(45)" font-size="9.33">DRB1*01</text>
<text stroke="#000" stroke-width="0.22" transform="translate(62.76,505.90) rotate(45)" font-size="9.33">DRB1*10</text>
<text stroke="#000" stroke-width="0.22" transform="translate(82.11,505.90) rotate(45)" font-size="9.33">DRB1*15</text>
<text stroke="#000" stroke-width="0.22" transform="translate(101.46,505.90) rotate(45)" font-size="9.33">DRB1*11</text>
<text stroke="#000" stroke-width="0.22" transform="translate(120.82,505.90) rotate(45)" font-size="9.33">DQA1*05_DQB1*03</text>
<text stroke="#000" stroke-width="0.22" transform="translate(140.17,505.90) rotate(45)" font-size="9.33">DRB1*07</text>
<text stroke="#000" stroke-width="0.22" transform="translate(159.53,505.90) rotate(45)" font-size="9.33">DPB1*03</text>
<text stroke="#000" stroke-width="0.22" transform="translate(178.89,505.90) rotate(45)" font-size="9.33">DRB1*13</text>
<text stroke="#000" stroke-width="0.22" transform="translate(198.24,505.90) rotate(45)" font-size="9.33">DRB1*09</text>
<text stroke="#000" stroke-width="0.22" transform="translate(217.59,505.90) rotate(45)" font-size="9.33">DQA1*05_DQB1*02</text>
<text stroke="#000" stroke-width="0.22" transform="translate(236.95,505.90) rotate(45)" font-size="9.33">DRB1*16</text>
<text stroke="#000" stroke-width="0.22" transform="translate(256.31,505.90) rotate(45)" font-size="9.33">DRB1*12</text>
<text stroke="#000" stroke-width="0.22" transform="translate(275.66,505.90) rotate(45)" font-size="9.33">DRB1*03</text>
<text stroke="#000" stroke-width="0.22" transform="translate(295.02,505.90) rotate(45)" font-size="9.33">DQA1*05_DQB1*05</text>
<text stroke="#000" stroke-width="0.22" transform="translate(314.37,505.90) rotate(45)" font-size="9.33">DQA1*02_DQB1*03</text>
<text stroke="#000" stroke-width="0.22" transform="translate(333.73,505.90) rotate(45)" font-size="9.33">DPB1*04</text>
<text stroke="#000" stroke-width="0.22" transform="translate(353.08,505.90) rotate(45)" font-size="9.33">DQA1*06_DQB1*03</text>
<text stroke="#000" stroke-width="0.22" transform="translate(372.44,505.90) rotate(45)" font-size="9.33">DQA1*04_DQB1*03</text>
<text stroke="#000" stroke-width="0.22" transform="translate(391.79,505.90) rotate(45)" font-size="9.33">DQA1*02_DQB1*02</text>
<text stroke="#000" stroke-width="0.22" transform="translate(411.15,505.90) rotate(45)" font-size="9.33">DQA1*01_DQB1*05</text>
<text stroke="#000" stroke-width="0.22" transform="translate(430.50,505.90) rotate(45)" font-size="9.33">DPB1*05</text>
<text stroke="#000" stroke-width="0.22" transform="translate(449.86,505.90) rotate(45)" font-size="9.33">DPA1*03</text>
<text stroke="#000" stroke-width="0.22" transform="translate(469.21,505.90) rotate(45)" font-size="9.33">DRB1*14</text>
<text stroke="#000" stroke-width="0.22" transform="translate(488.57,505.90) rotate(45)" font-size="9.33">DRB1*04</text>
<text stroke="#000" stroke-width="0.22" transform="translate(507.92,505.90) rotate(45)" font-size="9.33">DQA1*06_DQB1*06</text>
<text stroke="#000" stroke-width="0.22" transform="translate(527.27,505.90) rotate(45)" font-size="9.33">DQA1*05_DQB1*06</text>
<text stroke="#000" stroke-width="0.22" transform="translate(546.63,505.90) rotate(45)" font-size="9.33">DQA1*04_DQB1*04</text>
<text stroke="#000" stroke-width="0.22" transform="translate(565.99,505.90) rotate(45)" font-size="9.33">DPB1*14</text>
<text stroke="#000" stroke-width="0.22" transform="translate(585.34,505.90) rotate(45)" font-size="9.33">DPB1*13</text>
<text stroke="#000" stroke-width="0.22" transform="translate(604.69,505.90) rotate(45)" font-size="9.33">DPB1*01</text>
<path d="M47.80,494.3v3.7M67.16,494.3v3.7M86.51,494.3v3.7M105.86,494.3v3.7M125.22,494.3v3.7M144.57,494.3v3.7M163.93,494.3v3.7M183.29,494.3v3.7M202.64,494.3v3.7M222.00,494.3v3.7M241.35,494.3v3.7M260.70,494.3v3.7M280.06,494.3v3.7M299.42,494.3v3.7M318.77,494.3v3.7M338.12,494.3v3.7M357.48,494.3v3.7M376.84,494.3v3.7M396.19,494.3v3.7M415.55,494.3v3.7M434.90,494.3v3.7M454.25,494.3v3.7M473.61,494.3v3.7M492.97,494.3v3.7M512.32,494.3v3.7M531.67,494.3v3.7M551.03,494.3v3.7M570.38,494.3v3.7M589.74,494.3v3.7M609.09,494.3v3.7" stroke="#000" stroke-width="1" fill="none"/>
<rect x="623.7" y="417.1" width="38.80" height="77.20" fill="#f7f7f7"/>
<path d="M623.7,480.23H662.5M623.7,458.18H662.5M623.7,436.12H662.5" stroke="#fff" stroke-width="0.5" fill="none"/>
<path d="M623.7,491.25H662.5M623.7,469.20H662.5M623.7,447.15H662.5M623.7,425.10H662.5M634.00,417.1V494.3M651.50,417.1V494.3" stroke="#fff" stroke-width="1" fill="none"/>
<rect x="625.91" y="486.84" width="16.19" height="4.41" fill="#0000ff"/>
<rect x="643.41" y="489.05" width="16.19" height="2.21" fill="#0000ff"/>
<rect x="623.7" y="417.1" width="38.80" height="77.20" fill="none" stroke="#000" stroke-width="1"/>
<rect x="623.7" y="397.2" width="38.80" height="19.90" fill="#e5e5e5" stroke="#000" stroke-width="1"/>
<text x="643.10" y="410.40" text-anchor="middle" fill="#000" stroke="#000" stroke-width="0.22" font-size="9.33" >MHC-I</text>
<text stroke="#000" stroke-width="0.22" transform="translate(629.60,505.90) rotate(45)" font-size="9.33">B*49</text>
<text stroke="#000" stroke-width="0.22" transform="translate(647.10,505.90) rotate(45)" font-size="9.33">B*08</text>
<path d="M634.00,494.3v3.7M651.50,494.3v3.7" stroke="#000" stroke-width="1" fill="none"/>
<text x="29.70" y="494.15" text-anchor="end" fill="#000" stroke="#000" stroke-width="0.22" font-size="9.33" >0</text>
<text x="29.70" y="472.10" text-anchor="end" fill="#000" stroke="#000" stroke-width="0.22" font-size="9.33" >10</text>
<text x="29.70" y="450.05" text-anchor="end" fill="#000" stroke="#000" stroke-width="0.22" font-size="9.33" >20</text>
<text x="29.70" y="428.00" text-anchor="end" fill="#000" stroke="#000" stroke-width="0.22" font-size="9.33" >30</text>
<path d="M32.8,491.25H36.5M32.8,469.20H36.5M32.8,447.15H36.5M32.8,425.10H36.5" stroke="#000" stroke-width="1" fill="none"/>
<text stroke="#000" stroke-width="0.22" transform="translate(15.2,455.5) rotate(-90)" text-anchor="middle" font-size="9.33">Metaclones (N)</text>
<text x="349.40" y="575.60" text-anchor="middle" fill="#000" stroke="#000" stroke-width="0.22" font-size="9.33" >Lead HLA association</text>
</g>
<g id="panelE">
<text x="-0.70" y="609.40" text-anchor="start" fill="#000" stroke="#000" stroke-width="0.22" font-size="9.33" >E</text>
<text x="105.80" y="615.90" text-anchor="middle" fill="#000" stroke="#000" stroke-width="0.22" font-size="9.33" >Most public</text>
<text x="311.20" y="615.90" text-anchor="middle" fill="#000" stroke="#000" stroke-width="0.22" font-size="9.33" >Most abundant</text>
<path d="M13.8,651.4L75.0,663.4M13.8,651.4L68.9,665.7M13.8,651.4L62.8,668.7M13.8,651.4L59.6,672.5M13.8,651.4L77.7,667.4M13.8,651.4L69.8,670.9M13.8,651.4L44.5,637.3M13.8,651.4L54.3,632.7M44.5,637.3L59.6,672.5M44.5,637.3L62.8,668.7M44.5,637.3L68.9,665.7M44.5,637.3L75.0,663.4M44.5,637.3L89.4,658.7M44.5,637.3L77.7,667.4M44.5,637.3L69.8,670.9M44.5,637.3L84.7,673.9M44.5,637.3L96.6,628.1M44.5,637.3L105.2,627.2M44.5,637.3L114.0,627.5M44.5,637.3L123.2,628.7M44.5,637.3L131.2,631.2M54.3,632.7L59.6,672.5M54.3,632.7L62.8,668.7M54.3,632.7L68.9,665.7M54.3,632.7L75.0,663.4M54.3,632.7L89.4,658.7M54.3,632.7L77.7,667.4M54.3,632.7L69.8,670.9M54.3,632.7L84.7,673.9M54.3,632.7L96.6,628.1M54.3,632.7L105.2,627.2M54.3,632.7L114.0,627.5M54.3,632.7L123.2,628.7M54.3,632.7L131.2,631.2M63.8,629.3L59.6,672.5M63.8,629.3L62.8,668.7M63.8,629.3L68.9,665.7M63.8,629.3L75.0,663.4M63.8,629.3L89.4,658.7M63.8,629.3L77.7,667.4M63.8,629.3L69.8,670.9M63.8,629.3L84.7,673.9M63.8,629.3L96.6,628.1M63.8,629.3L105.2,627.2M63.8,629.3L114.0,627.5M63.8,629.3L123.2,628.7M63.8,629.3L131.2,631.2M63.8,629.3L151.4,638.8M63.8,629.3L157.0,643.1M63.8,629.3L164.9,649.0M54.3,632.7L157.0,643.1M54.3,632.7L164.9,649.0M63.8,629.3L95.7,657.6M63.8,629.3L103.1,658.7M96.6,628.1L75.0,663.4M96.6,628.1L89.4,658.7M96.6,628.1L95.7,657.6M96.6,628.1L103.1,658.7M96.6,628.1L109.6,659.5M96.6,628.1L115.7,661.3M96.6,628.1L121.8,663.0M96.6,628.1L127.6,665.7M96.6,628.1L151.4,638.8M96.6,628.1L157.0,643.1M96.6,628.1L164.9,649.0M96.6,628.1L94.7,662.5M96.6,628.1L102.2,664.3M96.6,628.1L109.2,666.9M96.6,628.1L116.7,668.3M96.6,628.1L124.1,669.9M105.2,627.2L75.0,663.4M105.2,627.2L89.4,658.7M105.2,627.2L95.7,657.6M105.2,627.2L103.1,658.7M105.2,627.2L109.6,659.5M105.2,627.2L115.7,661.3M105.2,627.2L121.8,663.0M105.2,627.2L127.6,665.7M105.2,627.2L151.4,638.8M105.2,627.2L157.0,643.1M105.2,627.2L164.9,649.0M105.2,627.2L94.7,662.5M105.2,627.2L102.2,664.3M105.2,627.2L109.2,666.9M105.2,627.2L116.7,668.3M105.2,627.2L124.1,669.9M114.0,627.5L75.0,663.4M114.0,627.5L89.4,658.7M114.0,627.5L95.7,657.6M114.0,627.5L103.1,658.7M114.0,627.5L109.6,659.5M114.0,627.5L115.7,661.3M114.0,627.5L121.8,663.0M114.0,627.5L127.6,665.7M114.0,627.5L151.4,638.8M114.0,627.5L157.0,643.1M114.0,627.5L164.9,649.0M114.0,627.5L94.7,662.5M114.0,627.5L102.2,664.3M114.0,627.5L109.2,666.9M114.0,627.5L116.7,668.3M114.0,627.5L124.1,669.9M123.2,628.7L75.0,663.4M123.2,628.7L89.4,658.7M123.2,628.7L95.7,657.6M123.2,628.7L103.1,658.7M123.2,628.7L109.6,659.5M123.2,628.7L115.7,661.3M123.2,628.7L121.8,663.0M123.2,628.7L127.6,665.7M123.2,628.7L151.4,638.8M123.2,628.7L157.0,643.1M123.2,628.7L164.9,649.0M123.2,628.7L94.7,662.5M123.2,628.7L102.2,664.3M123.2,628.7L109.2,666.9M123.2,628.7L116.7,668.3M123.2,628.7L124.1,669.9M131.2,631.2L75.0,663.4M131.2,631.2L89.4,658.7M131.2,631.2L95.7,657.6M131.2,631.2L103.1,658.7M131.2,631.2L109.6,659.5M131.2,631.2L115.7,661.3M131.2,631.2L121.8,663.0M131.2,631.2L127.6,665.7M131.2,631.2L151.4,638.8M131.2,631.2L157.0,643.1M131.2,631.2L164.9,649.0M131.2,631.2L94.7,662.5M131.2,631.2L102.2,664.3M131.2,631.2L109.2,666.9M131.2,631.2L116.7,668.3M131.2,631.2L124.1,669.9M96.6,628.1L68.9,665.7M131.2,631.2L131.5,669.2M123.2,628.7L131.5,669.2M151.4,638.8L95.7,657.6M151.4,638.8L103.1,658.7M151.4,638.8L109.6,659.5M151.4,638.8L115.7,661.3M151.4,638.8L121.8,663.0M151.4,638.8L127.6,665.7M151.4,638.8L131.5,669.2M151.4,638.8L136.9,678.8M151.4,638.8L109.2,666.9M151.4,638.8L116.7,668.3M151.4,638.8L124.1,669.9M157.0,643.1L95.7,657.6M157.0,643.1L103.1,658.7M157.0,643.1L109.6,659.5M157.0,643.1L115.7,661.3M157.0,643.1L121.8,663.0M157.0,643.1L127.6,665.7M157.0,643.1L131.5,669.2M157.0,643.1L136.9,678.8M157.0,643.1L109.2,666.9M157.0,643.1L116.7,668.3M157.0,643.1L124.1,669.9M164.9,649.0L95.7,657.6M164.9,649.0L103.1,658.7M164.9,649.0L109.6,659.5M164.9,649.0L115.7,661.3M164.9,649.0L121.8,663.0M164.9,649.0L127.6,665.7M164.9,649.0L131.5,669.2M164.9,649.0L136.9,678.8M164.9,649.0L109.2,666.9M164.9,649.0L116.7,668.3M164.9,649.0L124.1,669.9M164.9,649.0L161.6,712.7M164.9,649.0L137.8,683.2M164.9,649.0L136.7,687.6M164.9,649.0L135.0,692.0M157.0,643.1L161.6,712.7M191.6,691.0L131.5,669.2M191.6,691.0L136.9,678.8M191.6,691.0L137.8,683.2M191.6,691.0L136.7,687.6M191.6,691.0L135.0,692.0M191.6,691.0L131.1,695.8M191.6,691.0L130.2,680.4M191.6,691.0L124.1,684.4M191.6,691.0L125.8,690.0M184.2,706.9L131.5,669.2M184.2,706.9L136.9,678.8M184.2,706.9L137.8,683.2M184.2,706.9L136.7,687.6M184.2,706.9L135.0,692.0M184.2,706.9L131.1,695.8M184.2,706.9L130.2,680.4M184.2,706.9L124.1,684.4M184.2,706.9L125.8,690.0M191.6,691.0L184.2,706.9M161.6,712.7L137.8,683.2M161.6,712.7L136.7,687.6M161.6,712.7L135.0,692.0M161.6,712.7L131.1,695.8M161.6,712.7L126.2,699.0M161.6,712.7L115.9,704.6M161.6,712.7L125.8,690.0M161.6,712.7L120.9,694.4M115.3,713.9L115.9,704.6M115.3,713.9L108.9,706.3M115.3,713.9L101.7,707.0M58.6,734.5L115.9,704.6M58.6,734.5L108.9,706.3M58.6,734.5L101.7,707.0M58.6,734.5L94.7,707.2M58.6,734.5L87.7,706.7M58.6,734.5L79.9,705.4M58.6,734.5L74.2,703.2M58.6,734.5L65.1,697.6M58.6,734.5L83.3,701.4M58.6,734.5L92.6,701.1M58.6,734.5L101.0,701.1M58.6,734.5L109.7,701.6M70.5,737.9L115.9,704.6M70.5,737.9L108.9,706.3M70.5,737.9L101.7,707.0M70.5,737.9L94.7,707.2M70.5,737.9L87.7,706.7M70.5,737.9L79.9,705.4M70.5,737.9L74.2,703.2M70.5,737.9L65.1,697.6M70.5,737.9L83.3,701.4M70.5,737.9L92.6,701.1M70.5,737.9L101.0,701.1M70.5,737.9L109.7,701.6M95.6,740.3L115.9,704.6M95.6,740.3L108.9,706.3M95.6,740.3L101.7,707.0M95.6,740.3L94.7,707.2M95.6,740.3L87.7,706.7M95.6,740.3L79.9,705.4M95.6,740.3L74.2,703.2M95.6,740.3L65.1,697.6M95.6,740.3L83.3,701.4M95.6,740.3L92.6,701.1M95.6,740.3L101.0,701.1M95.6,740.3L109.7,701.6M108.8,739.7L115.9,704.6M108.8,739.7L108.9,706.3M108.8,739.7L101.7,707.0M108.8,739.7L94.7,707.2M108.8,739.7L87.7,706.7M108.8,739.7L79.9,705.4M108.8,739.7L74.2,703.2M108.8,739.7L65.1,697.6M108.8,739.7L83.3,701.4M108.8,739.7L92.6,701.1M108.8,739.7L101.0,701.1M108.8,739.7L109.7,701.6M58.6,734.5L70.5,737.9M58.6,734.5L95.6,740.3M70.5,737.9L95.6,740.3M70.5,737.9L108.8,739.7M95.6,740.3L108.8,739.7" stroke="#404040" stroke-width="0.4" fill="none"/>
<ellipse cx="97.0" cy="683.1" rx="41.6" ry="25.4" fill="#414141"/>
<circle cx="89.4" cy="658.7" r="1.85" fill="#66ff00"/>
<circle cx="95.7" cy="657.6" r="1.85" fill="#0026ff"/>
<circle cx="103.1" cy="658.7" r="1.85" fill="#ffe600"/>
<circle cx="109.6" cy="659.5" r="1.85" fill="#ff00e6"/>
<circle cx="115.7" cy="661.3" r="1.85" fill="#0026ff"/>
<circle cx="121.8" cy="663.0" r="1.85" fill="#00ff80"/>
<circle cx="127.6" cy="665.7" r="1.85" fill="#ccff00"/>
<circle cx="131.5" cy="669.2" r="1.85" fill="#ffe600"/>
<circle cx="136.9" cy="678.8" r="1.85" fill="#ff0000"/>
<circle cx="137.8" cy="683.2" r="1.85" fill="#0026ff"/>
<circle cx="136.7" cy="687.6" r="1.85" fill="#00ff80"/>
<circle cx="135.0" cy="692.0" r="1.85" fill="#00ff1a"/>
<circle cx="131.1" cy="695.8" r="1.85" fill="#66ff00"/>
<circle cx="126.2" cy="699.0" r="1.85" fill="#ff00e6"/>
<circle cx="115.9" cy="704.6" r="1.85" fill="#ccff00"/>
<circle cx="108.9" cy="706.3" r="1.85" fill="#66ff00"/>
<circle cx="101.7" cy="707.0" r="1.85" fill="#00e6ff"/>
<circle cx="94.7" cy="707.2" r="1.85" fill="#ff9900"/>
<circle cx="87.7" cy="706.7" r="1.85" fill="#00ff1a"/>
<circle cx="79.9" cy="705.4" r="1.85" fill="#ff0000"/>
<circle cx="74.2" cy="703.2" r="1.85" fill="#0099ff"/>
<circle cx="65.1" cy="697.6" r="1.85" fill="#ff0000"/>
<circle cx="59.8" cy="694.1" r="1.85" fill="#ffe600"/>
<circle cx="55.8" cy="688.8" r="1.85" fill="#ff9900"/>
<circle cx="55.8" cy="683.5" r="1.85" fill="#ff0000"/>
<circle cx="56.1" cy="678.3" r="1.85" fill="#00ffcc"/>
<circle cx="59.6" cy="672.5" r="1.85" fill="#8000ff"/>
<circle cx="62.8" cy="668.7" r="1.85" fill="#0026ff"/>
<circle cx="68.9" cy="665.7" r="1.85" fill="#ccff00"/>
<circle cx="75.0" cy="663.4" r="1.85" fill="#0026ff"/>
<circle cx="94.7" cy="662.5" r="1.85" fill="#0099ff"/>
<circle cx="102.2" cy="664.3" r="1.85" fill="#00e6ff"/>
<circle cx="109.2" cy="666.9" r="1.85" fill="#00ff1a"/>
<circle cx="116.7" cy="668.3" r="1.85" fill="#8000ff"/>
<circle cx="124.1" cy="669.9" r="1.85" fill="#ccff00"/>
<circle cx="77.7" cy="667.4" r="1.85" fill="#0026ff"/>
<circle cx="69.8" cy="670.9" r="1.85" fill="#ff00e6"/>
<circle cx="84.7" cy="673.9" r="1.85" fill="#ccff00"/>
<circle cx="95.7" cy="676.9" r="1.85" fill="#00e6ff"/>
<circle cx="73.8" cy="678.3" r="1.85" fill="#ff4d00"/>
<circle cx="63.3" cy="680.9" r="1.85" fill="#00ff1a"/>
<circle cx="85.9" cy="682.7" r="1.85" fill="#ff0000"/>
<circle cx="101.3" cy="683.2" r="1.85" fill="#00ff1a"/>
<circle cx="111.5" cy="680.9" r="1.85" fill="#ff4d00"/>
<circle cx="72.9" cy="686.2" r="1.85" fill="#00ff80"/>
<circle cx="64.0" cy="688.8" r="1.85" fill="#ff9900"/>
<circle cx="81.7" cy="691.1" r="1.85" fill="#ccff00"/>
<circle cx="94.3" cy="690.0" r="1.85" fill="#ccff00"/>
<circle cx="108.0" cy="690.0" r="1.85" fill="#ff9900"/>
<circle cx="71.2" cy="694.6" r="1.85" fill="#0026ff"/>
<circle cx="130.2" cy="680.4" r="1.85" fill="#0026ff"/>
<circle cx="124.1" cy="684.4" r="1.85" fill="#ff00e6"/>
<circle cx="125.8" cy="690.0" r="1.85" fill="#ff9900"/>
<circle cx="120.9" cy="694.4" r="1.85" fill="#0026ff"/>
<circle cx="83.3" cy="701.4" r="1.85" fill="#8000ff"/>
<circle cx="92.6" cy="701.1" r="1.85" fill="#0026ff"/>
<circle cx="101.0" cy="701.1" r="1.85" fill="#8000ff"/>
<circle cx="109.7" cy="701.6" r="1.85" fill="#ff0000"/>
<circle cx="13.8" cy="651.4" r="1.85" fill="#ff00e6"/>
<circle cx="44.5" cy="637.3" r="1.85" fill="#ff9900"/>
<circle cx="54.3" cy="632.7" r="1.85" fill="#ff4d00"/>
<circle cx="63.8" cy="629.3" r="1.85" fill="#00e6ff"/>
<circle cx="96.6" cy="628.1" r="1.85" fill="#ff9900"/>
<circle cx="105.2" cy="627.2" r="1.85" fill="#66ff00"/>
<circle cx="114.0" cy="627.5" r="1.85" fill="#66ff00"/>
<circle cx="123.2" cy="628.7" r="1.85" fill="#ff9900"/>
<circle cx="131.2" cy="631.2" r="1.85" fill="#ff4d00"/>
<circle cx="151.4" cy="638.8" r="1.85" fill="#8000ff"/>
<circle cx="157.0" cy="643.1" r="1.85" fill="#00ff1a"/>
<circle cx="164.9" cy="649.0" r="1.85" fill="#0026ff"/>
<circle cx="191.6" cy="691.0" r="1.85" fill="#0026ff"/>
<circle cx="184.2" cy="706.9" r="1.85" fill="#ff00e6"/>
<circle cx="161.6" cy="712.7" r="1.85" fill="#ff4d00"/>
<circle cx="115.3" cy="713.9" r="1.85" fill="#0099ff"/>
<circle cx="58.6" cy="734.5" r="1.85" fill="#ccff00"/>
<circle cx="70.5" cy="737.9" r="1.85" fill="#ff00e6"/>
<circle cx="95.6" cy="740.3" r="1.85" fill="#00ff1a"/>
<circle cx="108.8" cy="739.7" r="1.85" fill="#00e6ff"/>
<path d="M247.4,662.8L271.3,681.2M247.4,662.8L276.0,676.1M247.4,662.8L278.1,672.3M247.4,662.8L274.9,680.4M247.4,662.8L273.4,684.6M247.4,662.8L278.7,677.0M247.4,662.8L279.8,674.5M247.4,662.8L271.8,689.7M247.4,662.8L284.0,667.0M247.4,662.8L285.5,661.8M247.4,662.8L274.9,689.3M247.4,662.8L288.3,664.9M247.4,662.8L278.1,690.3M247.4,662.8L278.7,693.9M247.4,662.8L295.5,662.8M247.4,662.8L282.3,696.7M247.4,662.8L285.5,694.6M247.4,662.8L291.4,686.7M247.4,662.8L297.6,663.9M247.4,662.8L296.7,672.3M247.4,662.8L290.4,692.4M247.4,662.8L299.3,669.8M247.4,662.8L296.7,681.4M247.4,662.8L295.0,685.5M247.4,662.8L300.3,665.6M247.4,662.8L298.2,678.7M249.5,669.2L271.3,681.2M249.5,669.2L276.0,676.1M249.5,669.2L274.9,680.4M249.5,669.2L273.4,684.6M249.5,669.2L278.1,672.3M249.5,669.2L278.7,677.0M249.5,669.2L271.8,689.7M249.5,669.2L279.8,674.5M249.5,669.2L274.9,689.3M249.5,669.2L284.0,667.0M249.5,669.2L278.1,690.3M249.5,669.2L285.5,661.8M249.5,669.2L278.7,693.9M249.5,669.2L288.3,664.9M249.5,669.2L282.3,696.7M249.5,669.2L285.5,694.6M249.5,669.2L291.4,686.7M249.5,669.2L295.5,662.8M249.5,669.2L290.4,692.4M249.5,669.2L296.7,672.3M249.5,669.2L297.6,663.9M249.5,669.2L295.0,685.5M249.5,669.2L296.7,681.4M249.5,669.2L298.2,678.7M249.5,669.2L299.3,669.8M249.5,669.2L300.3,665.6M245.3,682.9L271.3,681.2M245.3,682.9L271.8,689.7M245.3,682.9L273.4,684.6M245.3,682.9L274.9,680.4M245.3,682.9L274.9,689.3M245.3,682.9L276.0,676.1M245.3,682.9L278.1,690.3M245.3,682.9L278.7,677.0M245.3,682.9L278.1,672.3M245.3,682.9L278.7,693.9M245.3,682.9L279.8,674.5M245.3,682.9L282.3,696.7M245.3,682.9L284.0,667.0M245.3,682.9L285.5,694.6M245.3,682.9L285.5,661.8M245.3,682.9L290.4,692.4M245.3,682.9L291.4,686.7M245.3,682.9L288.3,664.9M245.3,682.9L295.0,685.5M245.3,682.9L296.7,681.4M245.3,682.9L296.7,672.3M245.3,682.9L298.2,678.7M245.3,682.9L295.5,662.8M245.3,682.9L299.3,669.8M245.3,682.9L297.6,663.9M245.3,682.9L302.0,684.4M270.7,649.5L285.5,661.8M270.7,649.5L284.0,667.0M270.7,649.5L288.3,664.9M270.7,649.5L278.1,672.3M270.7,649.5L279.8,674.5M270.7,649.5L276.0,676.1M270.7,649.5L295.5,662.8M270.7,649.5L278.7,677.0M270.7,649.5L297.6,663.9M270.7,649.5L274.9,680.4M270.7,649.5L271.3,681.2M270.7,649.5L301.8,659.2M270.7,649.5L300.3,665.6M270.7,649.5L296.7,672.3M270.7,649.5L303.9,659.6M270.7,649.5L299.3,669.8M270.7,649.5L273.4,684.6M270.7,649.5L274.9,689.3M270.7,649.5L298.2,678.7M270.7,649.5L271.8,689.7M270.7,649.5L296.7,681.4M270.7,649.5L278.1,690.3M270.7,649.5L310.9,661.8M270.7,649.5L291.4,686.7M270.7,649.5L295.0,685.5M270.7,649.5L313.0,667.0M270.7,649.5L302.0,684.4M270.7,649.5L290.4,692.4M270.7,649.5L312.0,674.5M270.7,649.5L315.8,668.7M270.7,649.5L315.1,677.0M270.7,649.5L320.0,667.0M270.7,649.5L316.6,677.8M270.7,649.5L314.5,681.9M270.7,649.5L322.6,672.8M270.7,649.5L325.1,669.2M270.7,649.5L326.2,691.8M270.7,649.5L336.3,679.7M270.7,649.5L334.2,684.6M270.7,649.5L337.8,690.3M278.1,639.5L285.5,661.8M278.1,639.5L288.3,664.9M278.1,639.5L284.0,667.0M278.1,639.5L295.5,662.8M278.1,639.5L301.8,659.2M278.1,639.5L297.6,663.9M278.1,639.5L303.9,659.6M278.1,639.5L278.1,672.3M278.1,639.5L300.3,665.6M278.1,639.5L279.8,674.5M278.1,639.5L276.0,676.1M278.1,639.5L299.3,669.8M278.1,639.5L278.7,677.0M278.1,639.5L296.7,672.3M278.1,639.5L310.9,661.8M278.1,639.5L274.9,680.4M278.1,639.5L271.3,681.2M278.1,639.5L298.2,678.7M278.1,639.5L313.0,667.0M278.1,639.5L273.4,684.6M278.1,639.5L296.7,681.4M278.1,639.5L315.8,668.7M278.1,639.5L312.0,674.5M278.1,639.5L295.0,685.5M278.1,639.5L291.4,686.7M278.1,639.5L274.9,689.3M278.1,639.5L320.0,667.0M278.1,639.5L271.8,689.7M278.1,639.5L278.1,690.3M278.1,639.5L302.0,684.4M278.1,639.5L315.1,677.0M278.1,639.5L290.4,692.4M278.1,639.5L316.6,677.8M278.1,639.5L322.6,672.8M278.1,639.5L325.1,669.2M278.1,639.5L314.5,681.9M278.1,639.5L336.3,679.7M278.1,639.5L326.2,691.8M278.1,639.5L334.2,684.6M278.1,639.5L337.8,690.3M278.7,643.8L285.5,661.8M278.7,643.8L288.3,664.9M278.7,643.8L284.0,667.0M278.7,643.8L295.5,662.8M278.7,643.8L297.6,663.9M278.7,643.8L301.8,659.2M278.7,643.8L278.1,672.3M278.7,643.8L303.9,659.6M278.7,643.8L300.3,665.6M278.7,643.8L279.8,674.5M278.7,643.8L276.0,676.1M278.7,643.8L299.3,669.8M278.7,643.8L278.7,677.0M278.7,643.8L296.7,672.3M278.7,643.8L274.9,680.4M278.7,643.8L310.9,661.8M278.7,643.8L271.3,681.2M278.7,643.8L298.2,678.7M278.7,643.8L273.4,684.6M278.7,643.8L313.0,667.0M278.7,643.8L296.7,681.4M278.7,643.8L315.8,668.7M278.7,643.8L295.0,685.5M278.7,643.8L291.4,686.7M278.7,643.8L312.0,674.5M278.7,643.8L274.9,689.3M278.7,643.8L271.8,689.7M278.7,643.8L278.1,690.3M278.7,643.8L302.0,684.4M278.7,643.8L320.0,667.0M278.7,643.8L315.1,677.0M278.7,643.8L290.4,692.4M278.7,643.8L316.6,677.8M278.7,643.8L314.5,681.9M278.7,643.8L322.6,672.8M278.7,643.8L325.1,669.2M278.7,643.8L326.2,691.8M278.7,643.8L336.3,679.7M278.7,643.8L334.2,684.6M278.7,643.8L337.8,690.3M296.7,640.2L301.8,659.2M296.7,640.2L303.9,659.6M296.7,640.2L295.5,662.8M296.7,640.2L297.6,663.9M296.7,640.2L285.5,661.8M296.7,640.2L300.3,665.6M296.7,640.2L310.9,661.8M296.7,640.2L288.3,664.9M296.7,640.2L284.0,667.0M296.7,640.2L299.3,669.8M296.7,640.2L313.0,667.0M296.7,640.2L296.7,672.3M296.7,640.2L315.8,668.7M296.7,640.2L320.0,667.0M296.7,640.2L278.1,672.3M296.7,640.2L312.0,674.5M296.7,640.2L279.8,674.5M296.7,640.2L298.2,678.7M296.7,640.2L325.1,669.2M296.7,640.2L278.7,677.0M296.7,640.2L315.1,677.0M296.7,640.2L296.7,681.4M296.7,640.2L276.0,676.1M296.7,640.2L322.6,672.8M296.7,640.2L316.6,677.8M296.7,640.2L302.0,684.4M296.7,640.2L295.0,685.5M296.7,640.2L314.5,681.9M296.7,640.2L274.9,680.4M296.7,640.2L291.4,686.7M296.7,640.2L271.3,681.2M296.7,640.2L273.4,684.6M296.7,640.2L290.4,692.4M296.7,640.2L278.1,690.3M296.7,640.2L274.9,689.3M296.7,640.2L271.8,689.7M296.7,640.2L336.3,679.7M296.7,640.2L334.2,684.6M296.7,640.2L326.2,691.8M296.7,640.2L337.8,690.3M307.7,636.4L303.9,659.6M307.7,636.4L301.8,659.2M307.7,636.4L310.9,661.8M307.7,636.4L295.5,662.8M307.7,636.4L297.6,663.9M307.7,636.4L300.3,665.6M307.7,636.4L313.0,667.0M307.7,636.4L320.0,667.0M307.7,636.4L315.8,668.7M307.7,636.4L285.5,661.8M307.7,636.4L299.3,669.8M307.7,636.4L288.3,664.9M307.7,636.4L325.1,669.2M307.7,636.4L296.7,672.3M307.7,636.4L312.0,674.5M307.7,636.4L284.0,667.0M307.7,636.4L322.6,672.8M307.7,636.4L315.1,677.0M307.7,636.4L316.6,677.8M307.7,636.4L298.2,678.7M307.7,636.4L314.5,681.9M307.7,636.4L296.7,681.4M307.7,636.4L278.1,672.3M307.7,636.4L279.8,674.5M307.7,636.4L302.0,684.4M307.7,636.4L278.7,677.0M307.7,636.4L295.0,685.5M307.7,636.4L276.0,676.1M307.7,636.4L336.3,679.7M307.7,636.4L291.4,686.7M307.7,636.4L274.9,680.4M307.7,636.4L334.2,684.6M307.7,636.4L271.3,681.2M307.7,636.4L326.2,691.8M307.7,636.4L290.4,692.4M307.7,636.4L273.4,684.6M307.7,636.4L278.1,690.3M307.7,636.4L337.8,690.3M307.7,636.4L274.9,689.3M307.7,636.4L271.8,689.7M306.0,640.2L301.8,659.2M306.0,640.2L303.9,659.6M306.0,640.2L310.9,661.8M306.0,640.2L295.5,662.8M306.0,640.2L297.6,663.9M306.0,640.2L300.3,665.6M306.0,640.2L313.0,667.0M306.0,640.2L285.5,661.8M306.0,640.2L315.8,668.7M306.0,640.2L320.0,667.0M306.0,640.2L299.3,669.8M306.0,640.2L288.3,664.9M306.0,640.2L296.7,672.3M306.0,640.2L325.1,669.2M306.0,640.2L284.0,667.0M306.0,640.2L312.0,674.5M306.0,640.2L322.6,672.8M306.0,640.2L315.1,677.0M306.0,640.2L316.6,677.8M306.0,640.2L298.2,678.7M306.0,640.2L296.7,681.4M306.0,640.2L314.5,681.9M306.0,640.2L278.1,672.3M306.0,640.2L279.8,674.5M306.0,640.2L302.0,684.4M306.0,640.2L278.7,677.0M306.0,640.2L295.0,685.5M306.0,640.2L276.0,676.1M306.0,640.2L291.4,686.7M306.0,640.2L336.3,679.7M306.0,640.2L274.9,680.4M306.0,640.2L334.2,684.6M306.0,640.2L271.3,681.2M306.0,640.2L290.4,692.4M306.0,640.2L273.4,684.6M306.0,640.2L326.2,691.8M306.0,640.2L278.1,690.3M306.0,640.2L274.9,689.3M306.0,640.2L337.8,690.3M306.0,640.2L271.8,689.7M325.1,648.4L320.0,667.0M325.1,648.4L310.9,661.8M325.1,648.4L325.1,669.2M325.1,648.4L313.0,667.0M325.1,648.4L315.8,668.7M325.1,648.4L303.9,659.6M325.1,648.4L322.6,672.8M325.1,648.4L301.8,659.2M325.1,648.4L312.0,674.5M325.1,648.4L300.3,665.6M325.1,648.4L315.1,677.0M325.1,648.4L316.6,677.8M325.1,648.4L297.6,663.9M325.1,648.4L295.5,662.8M325.1,648.4L336.3,679.7M325.1,648.4L299.3,669.8M325.1,648.4L314.5,681.9M325.1,648.4L296.7,672.3M325.1,648.4L334.2,684.6M325.1,648.4L298.2,678.7M325.1,648.4L302.0,684.4M325.1,648.4L296.7,681.4M325.1,648.4L337.8,690.3M325.1,648.4L295.0,685.5M332.5,649.7L325.1,669.2M332.5,649.7L320.0,667.0M332.5,649.7L310.9,661.8M332.5,649.7L322.6,672.8M332.5,649.7L315.8,668.7M332.5,649.7L313.0,667.0M332.5,649.7L303.9,659.6M332.5,649.7L336.3,679.7M332.5,649.7L301.8,659.2M332.5,649.7L312.0,674.5M332.5,649.7L316.6,677.8M332.5,649.7L315.1,677.0M332.5,649.7L334.2,684.6M332.5,649.7L300.3,665.6M332.5,649.7L314.5,681.9M332.5,649.7L297.6,663.9M332.5,649.7L299.3,669.8M332.5,649.7L295.5,662.8M332.5,649.7L337.8,690.3M332.5,649.7L296.7,672.3M332.5,649.7L298.2,678.7M332.5,649.7L302.0,684.4M332.5,649.7L296.7,681.4M332.5,649.7L295.0,685.5M329.5,654.3L325.1,669.2M329.5,654.3L320.0,667.0M329.5,654.3L322.6,672.8M329.5,654.3L315.8,668.7M329.5,654.3L310.9,661.8M329.5,654.3L313.0,667.0M329.5,654.3L303.9,659.6M329.5,654.3L336.3,679.7M329.5,654.3L312.0,674.5M329.5,654.3L316.6,677.8M329.5,654.3L315.1,677.0M329.5,654.3L301.8,659.2M329.5,654.3L334.2,684.6M329.5,654.3L300.3,665.6M329.5,654.3L314.5,681.9M329.5,654.3L297.6,663.9M329.5,654.3L299.3,669.8M329.5,654.3L295.5,662.8M329.5,654.3L337.8,690.3M329.5,654.3L296.7,672.3M329.5,654.3L298.2,678.7M329.5,654.3L302.0,684.4M329.5,654.3L296.7,681.4M329.5,654.3L295.0,685.5M331.4,655.4L325.1,669.2M331.4,655.4L320.0,667.0M331.4,655.4L322.6,672.8M331.4,655.4L315.8,668.7M331.4,655.4L310.9,661.8M331.4,655.4L313.0,667.0M331.4,655.4L336.3,679.7M331.4,655.4L316.6,677.8M331.4,655.4L315.1,677.0M331.4,655.4L312.0,674.5M331.4,655.4L303.9,659.6M331.4,655.4L334.2,684.6M331.4,655.4L301.8,659.2M331.4,655.4L314.5,681.9M331.4,655.4L300.3,665.6M331.4,655.4L297.6,663.9M331.4,655.4L299.3,669.8M331.4,655.4L337.8,690.3M331.4,655.4L295.5,662.8M331.4,655.4L296.7,672.3M331.4,655.4L298.2,678.7M331.4,655.4L302.0,684.4M331.4,655.4L296.7,681.4M331.4,655.4L295.0,685.5M337.8,660.7L325.1,669.2M337.8,660.7L320.0,667.0M337.8,660.7L336.3,679.7M337.8,660.7L322.6,672.8M337.8,660.7L315.8,668.7M337.8,660.7L334.2,684.6M337.8,660.7L313.0,667.0M337.8,660.7L310.9,661.8M337.8,660.7L316.6,677.8M337.8,660.7L315.1,677.0M337.8,660.7L312.0,674.5M337.8,660.7L337.8,690.3M337.8,660.7L314.5,681.9M337.8,660.7L303.9,659.6M337.8,660.7L301.8,659.2M337.8,660.7L300.3,665.6M337.8,660.7L299.3,669.8M337.8,660.7L297.6,663.9M337.8,660.7L295.5,662.8M337.8,660.7L296.7,672.3M337.8,660.7L302.0,684.4M337.8,660.7L298.2,678.7M337.8,660.7L296.7,681.4M337.8,660.7L295.0,685.5M339.5,661.3L325.1,669.2M339.5,661.3L336.3,679.7M339.5,661.3L320.0,667.0M339.5,661.3L322.6,672.8M339.5,661.3L334.2,684.6M339.5,661.3L315.8,668.7M339.5,661.3L313.0,667.0M339.5,661.3L316.6,677.8M339.5,661.3L310.9,661.8M339.5,661.3L315.1,677.0M339.5,661.3L337.8,690.3M339.5,661.3L312.0,674.5M339.5,661.3L314.5,681.9M339.5,661.3L303.9,659.6M339.5,661.3L301.8,659.2M339.5,661.3L300.3,665.6M339.5,661.3L299.3,669.8M339.5,661.3L297.6,663.9M339.5,661.3L302.0,684.4M339.5,661.3L295.5,662.8M339.5,661.3L296.7,672.3M339.5,661.3L298.2,678.7M339.5,661.3L296.7,681.4M339.5,661.3L295.0,685.5M370.2,656.5L325.1,669.2M370.2,656.5L322.6,672.8M370.2,656.5L320.0,667.0M370.2,656.5L315.8,668.7M370.2,656.5L313.0,667.0M370.2,656.5L310.9,661.8M370.2,656.5L312.0,674.5M370.2,656.5L303.9,659.6M378.0,661.3L325.1,669.2M378.0,661.3L322.6,672.8M378.0,661.3L320.0,667.0M378.0,661.3L315.8,668.7M378.0,661.3L313.0,667.0M378.0,661.3L310.9,661.8M378.0,661.3L312.0,674.5M378.0,661.3L303.9,659.6M372.9,666.4L325.1,669.2M372.9,666.4L322.6,672.8M372.9,666.4L320.0,667.0M372.9,666.4L315.8,668.7M372.9,666.4L313.0,667.0M372.9,666.4L312.0,674.5M372.9,666.4L310.9,661.8M372.9,666.4L303.9,659.6M359.6,687.2L337.8,690.3M359.6,687.2L338.4,693.9M359.6,687.2L336.3,679.7M359.6,687.2L336.3,696.7M359.6,687.2L334.2,684.6M359.6,687.2L335.7,701.5M359.6,687.2L328.5,698.2M359.6,687.2L326.2,691.8M359.6,687.2L330.0,703.7M359.6,687.2L327.8,699.9M359.6,687.2L324.7,697.3M359.6,687.2L326.4,705.1M359.6,687.2L322.6,696.3M359.6,687.2L326.2,709.4M359.6,687.2L323.6,710.4M359.6,687.2L326.4,714.3M359.6,687.2L317.3,694.6M359.6,687.2L316.6,677.8M359.6,687.2L314.5,681.9M359.6,687.2L320.4,715.3M359.6,687.2L318.3,712.1M359.6,687.2L315.8,717.2M359.6,687.2L309.9,708.7M359.6,687.2L311.5,716.2M359.6,687.2L306.0,705.8M359.6,687.2L302.0,684.4M359.6,687.2L306.0,716.8M359.6,687.2L298.2,678.7M359.6,687.2L304.6,715.7M359.6,687.2L303.1,714.3M359.6,687.2L296.7,681.4M359.6,687.2L295.0,685.5M359.6,687.2L295.5,705.1M359.6,687.2L298.2,715.1M366.6,687.6L338.4,693.9M366.6,687.6L337.8,690.3M366.6,687.6L336.3,679.7M366.6,687.6L336.3,696.7M366.6,687.6L334.2,684.6M366.6,687.6L335.7,701.5M366.6,687.6L328.5,698.2M366.6,687.6L330.0,703.7M366.6,687.6L327.8,699.9M366.6,687.6L326.2,691.8M366.6,687.6L324.7,697.3M366.6,687.6L326.4,705.1M366.6,687.6L322.6,696.3M366.6,687.6L326.2,709.4M366.6,687.6L326.4,714.3M366.6,687.6L323.6,710.4M366.6,687.6L317.3,694.6M366.6,687.6L316.6,677.8M366.6,687.6L314.5,681.9M366.6,687.6L320.4,715.3M366.6,687.6L318.3,712.1M366.6,687.6L315.8,717.2M366.6,687.6L309.9,708.7M366.6,687.6L311.5,716.2M366.6,687.6L306.0,705.8M366.6,687.6L302.0,684.4M366.6,687.6L306.0,716.8M366.6,687.6L304.6,715.7M366.6,687.6L303.1,714.3M366.6,687.6L298.2,678.7M366.6,687.6L296.7,681.4M366.6,687.6L295.0,685.5M366.6,687.6L295.5,705.1M366.6,687.6L298.2,715.1M361.1,691.0L338.4,693.9M361.1,691.0L337.8,690.3M361.1,691.0L336.3,696.7M361.1,691.0L336.3,679.7M361.1,691.0L335.7,701.5M361.1,691.0L334.2,684.6M361.1,691.0L328.5,698.2M361.1,691.0L330.0,703.7M361.1,691.0L327.8,699.9M361.1,691.0L326.2,691.8M361.1,691.0L324.7,697.3M361.1,691.0L326.4,705.1M361.1,691.0L322.6,696.3M361.1,691.0L326.2,709.4M361.1,691.0L326.4,714.3M361.1,691.0L323.6,710.4M361.1,691.0L317.3,694.6M361.1,691.0L316.6,677.8M361.1,691.0L320.4,715.3M361.1,691.0L314.5,681.9M361.1,691.0L318.3,712.1M361.1,691.0L315.8,717.2M361.1,691.0L309.9,708.7M361.1,691.0L311.5,716.2M361.1,691.0L306.0,705.8M361.1,691.0L302.0,684.4M361.1,691.0L306.0,716.8M361.1,691.0L304.6,715.7M361.1,691.0L303.1,714.3M361.1,691.0L298.2,678.7M361.1,691.0L296.7,681.4M361.1,691.0L295.0,685.5M361.1,691.0L295.5,705.1M361.1,691.0L298.2,715.1M369.1,698.2L338.4,693.9M369.1,698.2L337.8,690.3M369.1,698.2L336.3,696.7M369.1,698.2L335.7,701.5M369.1,698.2L334.2,684.6M369.1,698.2L336.3,679.7M369.1,698.2L330.0,703.7M369.1,698.2L328.5,698.2M369.1,698.2L327.8,699.9M369.1,698.2L326.4,705.1M369.1,698.2L326.2,691.8M369.1,698.2L326.2,709.4M369.1,698.2L324.7,697.3M369.1,698.2L326.4,714.3M369.1,698.2L322.6,696.3M369.1,698.2L323.6,710.4M369.1,698.2L320.4,715.3M369.1,698.2L317.3,694.6M369.1,698.2L318.3,712.1M369.1,698.2L316.6,677.8M369.1,698.2L315.8,717.2M369.1,698.2L314.5,681.9M369.1,698.2L309.9,708.7M369.1,698.2L311.5,716.2M369.1,698.2L306.0,705.8M369.1,698.2L306.0,716.8M369.1,698.2L304.6,715.7M369.1,698.2L303.1,714.3M369.1,698.2L302.0,684.4M369.1,698.2L298.2,715.1M369.1,698.2L298.2,678.7M369.1,698.2L295.5,705.1M369.1,698.2L296.7,681.4M369.1,698.2L295.0,708.7M363.4,699.9L338.4,693.9M363.4,699.9L336.3,696.7M363.4,699.9L337.8,690.3M363.4,699.9L335.7,701.5M363.4,699.9L334.2,684.6M363.4,699.9L330.0,703.7M363.4,699.9L336.3,679.7M363.4,699.9L328.5,698.2M363.4,699.9L327.8,699.9M363.4,699.9L326.4,705.1M363.4,699.9L326.2,691.8M363.4,699.9L326.2,709.4M363.4,699.9L324.7,697.3M363.4,699.9L326.4,714.3M363.4,699.9L322.6,696.3M363.4,699.9L323.6,710.4M363.4,699.9L320.4,715.3M363.4,699.9L317.3,694.6M363.4,699.9L318.3,712.1M363.4,699.9L315.8,717.2M363.4,699.9L316.6,677.8M363.4,699.9L314.5,681.9M363.4,699.9L309.9,708.7M363.4,699.9L311.5,716.2M363.4,699.9L306.0,705.8M363.4,699.9L306.0,716.8M363.4,699.9L304.6,715.7M363.4,699.9L303.1,714.3M363.4,699.9L302.0,684.4M363.4,699.9L298.2,715.1M363.4,699.9L295.5,705.1M363.4,699.9L298.2,678.7M363.4,699.9L295.0,708.7M363.4,699.9L296.1,715.7M362.4,703.5L338.4,693.9M362.4,703.5L335.7,701.5M362.4,703.5L336.3,696.7M362.4,703.5L337.8,690.3M362.4,703.5L330.0,703.7M362.4,703.5L334.2,684.6M362.4,703.5L328.5,698.2M362.4,703.5L327.8,699.9M362.4,703.5L336.3,679.7M362.4,703.5L326.4,705.1M362.4,703.5L326.2,709.4M362.4,703.5L326.4,714.3M362.4,703.5L326.2,691.8M362.4,703.5L324.7,697.3M362.4,703.5L323.6,710.4M362.4,703.5L322.6,696.3M362.4,703.5L320.4,715.3M362.4,703.5L318.3,712.1M362.4,703.5L317.3,694.6M362.4,703.5L315.8,717.2M362.4,703.5L311.5,716.2M362.4,703.5L316.6,677.8M362.4,703.5L314.5,681.9M362.4,703.5L309.9,708.7M362.4,703.5L306.0,705.8M362.4,703.5L306.0,716.8M362.4,703.5L304.6,715.7M362.4,703.5L303.1,714.3M362.4,703.5L302.0,684.4M362.4,703.5L298.2,715.1M362.4,703.5L295.5,705.1M362.4,703.5L296.1,715.7M362.4,703.5L295.0,708.7M362.4,703.5L298.2,678.7M366.0,704.1L338.4,693.9M366.0,704.1L335.7,701.5M366.0,704.1L336.3,696.7M366.0,704.1L337.8,690.3M366.0,704.1L330.0,703.7M366.0,704.1L334.2,684.6M366.0,704.1L328.5,698.2M366.0,704.1L327.8,699.9M366.0,704.1L336.3,679.7M366.0,704.1L326.4,705.1M366.0,704.1L326.2,709.4M366.0,704.1L326.4,714.3M366.0,704.1L326.2,691.8M366.0,704.1L324.7,697.3M366.0,704.1L323.6,710.4M366.0,704.1L322.6,696.3M366.0,704.1L320.4,715.3M366.0,704.1L318.3,712.1M366.0,704.1L317.3,694.6M366.0,704.1L315.8,717.2M366.0,704.1L311.5,716.2M366.0,704.1L316.6,677.8M366.0,704.1L314.5,681.9M366.0,704.1L309.9,708.7M366.0,704.1L306.0,705.8M366.0,704.1L306.0,716.8M366.0,704.1L304.6,715.7M366.0,704.1L303.1,714.3M366.0,704.1L302.0,684.4M366.0,704.1L298.2,715.1M366.0,704.1L295.5,705.1M366.0,704.1L296.1,715.7M366.0,704.1L295.0,708.7M366.0,704.1L298.2,678.7M362.4,708.7L335.7,701.5M362.4,708.7L338.4,693.9M362.4,708.7L336.3,696.7M362.4,708.7L337.8,690.3M362.4,708.7L330.0,703.7M362.4,708.7L328.5,698.2M362.4,708.7L327.8,699.9M362.4,708.7L326.4,705.1M362.4,708.7L326.2,709.4M362.4,708.7L326.4,714.3M362.4,708.7L334.2,684.6M362.4,708.7L323.6,710.4M362.4,708.7L336.3,679.7M362.4,708.7L324.7,697.3M362.4,708.7L326.2,691.8M362.4,708.7L322.6,696.3M362.4,708.7L320.4,715.3M362.4,708.7L318.3,712.1M362.4,708.7L317.3,694.6M362.4,708.7L315.8,717.2M362.4,708.7L311.5,716.2M362.4,708.7L309.9,708.7M362.4,708.7L314.5,681.9M362.4,708.7L316.6,677.8M362.4,708.7L306.0,705.8M362.4,708.7L306.0,716.8M362.4,708.7L304.6,715.7M362.4,708.7L303.1,714.3M362.4,708.7L298.2,715.1M362.4,708.7L302.0,684.4M362.4,708.7L296.1,715.7M362.4,708.7L295.5,705.1M362.4,708.7L295.0,708.7M362.4,708.7L298.2,678.7M362.8,713.0L335.7,701.5M362.8,713.0L338.4,693.9M362.8,713.0L336.3,696.7M362.8,713.0L337.8,690.3M362.8,713.0L330.0,703.7M362.8,713.0L326.4,714.3M362.8,713.0L326.2,709.4M362.8,713.0L326.4,705.1M362.8,713.0L327.8,699.9M362.8,713.0L328.5,698.2M362.8,713.0L323.6,710.4M362.8,713.0L334.2,684.6M362.8,713.0L324.7,697.3M362.8,713.0L326.2,691.8M362.8,713.0L320.4,715.3M362.8,713.0L336.3,679.7M362.8,713.0L322.6,696.3M362.8,713.0L318.3,712.1M362.8,713.0L315.8,717.2M362.8,713.0L317.3,694.6M362.8,713.0L311.5,716.2M362.8,713.0L309.9,708.7M362.8,713.0L306.0,716.8M362.8,713.0L306.0,705.8M362.8,713.0L314.5,681.9M362.8,713.0L316.6,677.8M362.8,713.0L304.6,715.7M362.8,713.0L303.1,714.3M362.8,713.0L298.2,715.1M362.8,713.0L296.1,715.7M362.8,713.0L302.0,684.4M362.8,713.0L295.5,705.1M362.8,713.0L295.0,708.7M362.8,713.0L290.4,712.6M358.1,729.5L326.4,714.3M358.1,729.5L335.7,701.5M358.1,729.5L326.2,709.4M358.1,729.5L330.0,703.7M358.1,729.5L336.3,696.7M358.1,729.5L323.6,710.4M358.1,729.5L326.4,705.1M358.1,729.5L320.4,715.3M358.1,729.5L338.4,693.9M358.1,729.5L327.8,699.9M358.1,729.5L328.5,698.2M358.1,729.5L318.3,712.1M358.1,729.5L315.8,717.2M358.1,729.5L337.8,690.3M358.1,729.5L324.7,697.3M358.1,729.5L311.5,716.2M358.1,729.5L322.6,696.3M358.1,729.5L326.2,691.8M358.1,729.5L309.9,708.7M358.1,729.5L306.0,716.8M358.1,729.5L317.3,694.6M358.1,729.5L304.6,715.7M358.1,729.5L303.1,714.3M358.1,729.5L306.0,705.8M348.0,732.0L326.4,714.3M348.0,732.0L326.2,709.4M348.0,732.0L320.4,715.3M348.0,732.0L323.6,710.4M348.0,732.0L335.7,701.5M348.0,732.0L330.0,703.7M348.0,732.0L326.4,705.1M348.0,732.0L315.8,717.2M348.0,732.0L318.3,712.1M348.0,732.0L336.3,696.7M348.0,732.0L327.8,699.9M348.0,732.0L328.5,698.2M348.0,732.0L338.4,693.9M348.0,732.0L311.5,716.2M348.0,732.0L324.7,697.3M348.0,732.0L337.8,690.3M348.0,732.0L322.6,696.3M348.0,732.0L306.0,716.8M348.0,732.0L309.9,708.7M348.0,732.0L326.2,691.8M348.0,732.0L304.6,715.7M348.0,732.0L303.1,714.3M348.0,732.0L317.3,694.6M348.0,732.0L306.0,705.8M349.7,733.3L326.4,714.3M349.7,733.3L326.2,709.4M349.7,733.3L320.4,715.3M349.7,733.3L323.6,710.4M349.7,733.3L335.7,701.5M349.7,733.3L330.0,703.7M349.7,733.3L326.4,705.1M349.7,733.3L315.8,717.2M349.7,733.3L318.3,712.1M349.7,733.3L336.3,696.7M349.7,733.3L327.8,699.9M349.7,733.3L338.4,693.9M349.7,733.3L328.5,698.2M349.7,733.3L311.5,716.2M349.7,733.3L324.7,697.3M349.7,733.3L337.8,690.3M349.7,733.3L322.6,696.3M349.7,733.3L306.0,716.8M349.7,733.3L309.9,708.7M349.7,733.3L326.2,691.8M349.7,733.3L304.6,715.7M349.7,733.3L303.1,714.3M349.7,733.3L317.3,694.6M349.7,733.3L306.0,705.8M295.0,740.5L296.1,715.7M295.0,740.5L298.2,715.1M295.0,740.5L306.0,716.8M295.0,740.5L304.6,715.7M295.0,740.5L303.1,714.3M295.0,740.5L290.4,712.6M295.0,740.5L311.5,716.2M295.0,740.5L315.8,717.2M295.0,740.5L295.0,708.7M295.0,740.5L309.9,708.7M295.0,740.5L295.5,705.1M295.0,740.5L320.4,715.3M295.0,740.5L306.0,705.8M295.0,740.5L318.3,712.1M295.0,740.5L326.4,714.3M295.0,740.5L323.6,710.4M295.0,740.5L326.2,709.4M295.0,740.5L282.3,696.7M295.0,740.5L285.5,694.6M295.0,740.5L326.4,705.1M295.0,740.5L290.4,692.4M295.0,740.5L278.7,693.9M295.0,740.5L330.0,703.7M295.0,740.5L317.3,694.6M295.0,740.5L322.6,696.3M295.0,740.5L327.8,699.9M295.0,740.5L324.7,697.3M295.0,740.5L278.1,690.3M295.0,740.5L328.5,698.2M295.0,740.5L271.8,689.7M312.0,740.5L315.8,717.2M312.0,740.5L311.5,716.2M312.0,740.5L306.0,716.8M312.0,740.5L304.6,715.7M312.0,740.5L320.4,715.3M312.0,740.5L303.1,714.3M312.0,740.5L298.2,715.1M312.0,740.5L318.3,712.1M312.0,740.5L296.1,715.7M312.0,740.5L326.4,714.3M312.0,740.5L309.9,708.7M312.0,740.5L323.6,710.4M312.0,740.5L326.2,709.4M312.0,740.5L306.0,705.8M312.0,740.5L290.4,712.6M312.0,740.5L295.0,708.7M312.0,740.5L326.4,705.1M312.0,740.5L295.5,705.1M312.0,740.5L330.0,703.7M312.0,740.5L327.8,699.9M312.0,740.5L324.7,697.3M312.0,740.5L328.5,698.2M312.0,740.5L322.6,696.3M312.0,740.5L335.7,701.5M312.0,740.5L317.3,694.6M312.0,740.5L336.3,696.7M312.0,740.5L326.2,691.8M312.0,740.5L290.4,692.4M312.0,740.5L282.3,696.7M312.0,740.5L285.5,694.6M333.1,740.5L326.4,714.3M333.1,740.5L320.4,715.3M333.1,740.5L315.8,717.2M333.1,740.5L323.6,710.4M333.1,740.5L326.2,709.4M333.1,740.5L318.3,712.1M333.1,740.5L311.5,716.2M333.1,740.5L326.4,705.1M333.1,740.5L306.0,716.8M333.1,740.5L330.0,703.7M333.1,740.5L304.6,715.7M333.1,740.5L335.7,701.5M333.1,740.5L309.9,708.7M333.1,740.5L303.1,714.3M333.1,740.5L327.8,699.9M333.1,740.5L328.5,698.2M333.1,740.5L298.2,715.1M333.1,740.5L336.3,696.7M333.1,740.5L324.7,697.3M333.1,740.5L306.0,705.8M333.1,740.5L296.1,715.7M333.1,740.5L322.6,696.3M333.1,740.5L338.4,693.9M333.1,740.5L317.3,694.6M333.1,740.5L326.2,691.8M333.1,740.5L295.0,708.7M333.1,740.5L337.8,690.3M333.1,740.5L290.4,712.6M333.1,740.5L295.5,705.1M333.1,740.5L290.4,692.4M336.3,740.5L326.4,714.3M336.3,740.5L320.4,715.3M336.3,740.5L315.8,717.2M336.3,740.5L323.6,710.4M336.3,740.5L326.2,709.4M336.3,740.5L318.3,712.1M336.3,740.5L311.5,716.2M336.3,740.5L326.4,705.1M336.3,740.5L330.0,703.7M336.3,740.5L306.0,716.8M336.3,740.5L335.7,701.5M336.3,740.5L304.6,715.7M336.3,740.5L309.9,708.7M336.3,740.5L327.8,699.9M336.3,740.5L303.1,714.3M336.3,740.5L328.5,698.2M336.3,740.5L336.3,696.7M336.3,740.5L324.7,697.3M336.3,740.5L298.2,715.1M336.3,740.5L306.0,705.8M336.3,740.5L322.6,696.3M336.3,740.5L338.4,693.9M336.3,740.5L296.1,715.7M336.3,740.5L317.3,694.6M336.3,740.5L326.2,691.8M336.3,740.5L337.8,690.3M336.3,740.5L295.0,708.7M336.3,740.5L290.4,712.6M336.3,740.5L295.5,705.1M336.3,740.5L290.4,692.4M341.2,740.5L326.4,714.3M341.2,740.5L320.4,715.3M341.2,740.5L315.8,717.2M341.2,740.5L326.2,709.4M341.2,740.5L323.6,710.4M341.2,740.5L318.3,712.1M341.2,740.5L326.4,705.1M341.2,740.5L311.5,716.2M341.2,740.5L330.0,703.7M341.2,740.5L335.7,701.5M341.2,740.5L306.0,716.8M341.2,740.5L327.8,699.9M341.2,740.5L336.3,696.7M341.2,740.5L328.5,698.2M341.2,740.5L304.6,715.7M341.2,740.5L309.9,708.7M341.2,740.5L324.7,697.3M341.2,740.5L303.1,714.3M341.2,740.5L338.4,693.9M341.2,740.5L322.6,696.3M341.2,740.5L306.0,705.8M341.2,740.5L298.2,715.1M341.2,740.5L337.8,690.3M341.2,740.5L326.2,691.8M341.2,740.5L296.1,715.7M341.2,740.5L317.3,694.6M341.2,740.5L295.0,708.7M341.2,740.5L295.5,705.1M341.2,740.5L290.4,712.6M341.2,740.5L290.4,692.4M278.7,707.3L282.3,696.7M278.7,707.3L290.4,712.6M278.7,707.3L278.7,693.9M278.7,707.3L285.5,694.6M278.7,707.3L295.0,708.7M278.7,707.3L295.5,705.1M278.7,707.3L278.1,690.3M278.7,707.3L274.9,689.3M278.7,707.3L290.4,692.4M278.7,707.3L271.8,689.7M278.7,707.3L296.1,715.7M278.7,707.3L298.2,715.1M278.7,707.3L273.4,684.6M278.7,707.3L291.4,686.7M278.7,707.3L303.1,714.3M278.7,707.3L271.3,681.2M265.4,690.3L271.8,689.7M265.4,690.3L274.9,689.3M265.4,690.3L273.4,684.6M265.4,690.3L271.3,681.2M265.4,690.3L278.1,690.3M265.4,690.3L274.9,680.4M265.4,690.3L278.7,693.9M265.4,690.3L282.3,696.7M265.4,690.3L285.5,694.6M265.4,690.3L290.4,692.4M265.4,690.3L291.4,686.7M265.4,690.3L295.0,685.5M265.4,690.3L296.7,681.4M265.4,690.3L290.4,712.6M265.4,690.3L295.5,705.1M265.4,690.3L298.2,678.7M247.4,662.8L270.7,649.5M247.4,662.8L265.4,690.3M249.5,669.2L270.7,649.5M249.5,669.2L265.4,690.3M245.3,682.9L270.7,649.5M245.3,682.9L265.4,690.3M247.4,662.8L249.5,669.2M249.5,669.2L245.3,682.9M247.4,662.8L245.3,682.9M270.7,649.5L278.1,639.5M270.7,649.5L278.7,643.8M270.7,649.5L296.7,640.2M270.7,649.5L307.7,636.4M270.7,649.5L306.0,640.2M270.7,649.5L325.1,648.4M270.7,649.5L332.5,649.7M270.7,649.5L329.5,654.3M270.7,649.5L331.4,655.4M270.7,649.5L337.8,660.7M270.7,649.5L339.5,661.3M278.1,639.5L278.7,643.8M278.1,639.5L296.7,640.2M278.1,639.5L307.7,636.4M278.1,639.5L306.0,640.2M278.1,639.5L325.1,648.4M278.1,639.5L332.5,649.7M278.1,639.5L329.5,654.3M278.1,639.5L331.4,655.4M278.1,639.5L337.8,660.7M278.1,639.5L339.5,661.3M278.7,643.8L296.7,640.2M278.7,643.8L307.7,636.4M278.7,643.8L306.0,640.2M278.7,643.8L325.1,648.4M278.7,643.8L332.5,649.7M278.7,643.8L329.5,654.3M278.7,643.8L331.4,655.4M278.7,643.8L337.8,660.7M278.7,643.8L339.5,661.3M296.7,640.2L307.7,636.4M296.7,640.2L306.0,640.2M296.7,640.2L325.1,648.4M296.7,640.2L332.5,649.7M296.7,640.2L329.5,654.3M296.7,640.2L331.4,655.4M296.7,640.2L337.8,660.7M296.7,640.2L339.5,661.3M307.7,636.4L306.0,640.2M307.7,636.4L325.1,648.4M307.7,636.4L332.5,649.7M307.7,636.4L329.5,654.3M307.7,636.4L331.4,655.4M307.7,636.4L337.8,660.7M307.7,636.4L339.5,661.3M306.0,640.2L325.1,648.4M306.0,640.2L332.5,649.7M306.0,640.2L329.5,654.3M306.0,640.2L331.4,655.4M306.0,640.2L337.8,660.7M306.0,640.2L339.5,661.3M325.1,648.4L370.2,656.5M325.1,648.4L378.0,661.3M325.1,648.4L372.9,666.4M332.5,649.7L370.2,656.5M332.5,649.7L378.0,661.3M332.5,649.7L372.9,666.4M329.5,654.3L370.2,656.5M329.5,654.3L378.0,661.3M329.5,654.3L372.9,666.4M331.4,655.4L370.2,656.5M331.4,655.4L378.0,661.3M331.4,655.4L372.9,666.4M337.8,660.7L370.2,656.5M337.8,660.7L378.0,661.3M337.8,660.7L372.9,666.4M339.5,661.3L370.2,656.5M339.5,661.3L378.0,661.3M339.5,661.3L372.9,666.4M370.2,656.5L359.6,687.2M370.2,656.5L366.6,687.6M370.2,656.5L361.1,691.0M378.0,661.3L359.6,687.2M378.0,661.3L366.6,687.6M378.0,661.3L361.1,691.0M372.9,666.4L359.6,687.2M372.9,666.4L366.6,687.6M372.9,666.4L361.1,691.0M370.2,656.5L378.0,661.3M378.0,661.3L372.9,666.4M370.2,656.5L372.9,666.4M359.6,687.2L358.1,729.5M359.6,687.2L348.0,732.0M359.6,687.2L349.7,733.3M359.6,687.2L333.1,740.5M359.6,687.2L336.3,740.5M359.6,687.2L341.2,740.5M366.6,687.6L358.1,729.5M366.6,687.6L348.0,732.0M366.6,687.6L349.7,733.3M366.6,687.6L333.1,740.5M366.6,687.6L336.3,740.5M366.6,687.6L341.2,740.5M361.1,691.0L358.1,729.5M361.1,691.0L348.0,732.0M361.1,691.0L349.7,733.3M361.1,691.0L333.1,740.5M361.1,691.0L336.3,740.5M361.1,691.0L341.2,740.5M369.1,698.2L358.1,729.5M369.1,698.2L348.0,732.0M369.1,698.2L349.7,733.3M369.1,698.2L333.1,740.5M369.1,698.2L336.3,740.5M369.1,698.2L341.2,740.5M363.4,699.9L358.1,729.5M363.4,699.9L348.0,732.0M363.4,699.9L349.7,733.3M363.4,699.9L333.1,740.5M363.4,699.9L336.3,740.5M363.4,699.9L341.2,740.5M362.4,703.5L358.1,729.5M362.4,703.5L348.0,732.0M362.4,703.5L349.7,733.3M362.4,703.5L333.1,740.5M362.4,703.5L336.3,740.5M362.4,703.5L341.2,740.5M366.0,704.1L358.1,729.5M366.0,704.1L348.0,732.0M366.0,704.1L349.7,733.3M366.0,704.1L333.1,740.5M366.0,704.1L336.3,740.5M366.0,704.1L341.2,740.5M362.4,708.7L358.1,729.5M362.4,708.7L348.0,732.0M362.4,708.7L349.7,733.3M362.4,708.7L333.1,740.5M362.4,708.7L336.3,740.5M362.4,708.7L341.2,740.5M362.8,713.0L358.1,729.5M362.8,713.0L348.0,732.0M362.8,713.0L349.7,733.3M362.8,713.0L333.1,740.5M362.8,713.0L336.3,740.5M362.8,713.0L341.2,740.5M295.0,740.5L312.0,740.5M295.0,740.5L333.1,740.5M295.0,740.5L336.3,740.5M295.0,740.5L341.2,740.5M312.0,740.5L333.1,740.5M312.0,740.5L336.3,740.5M312.0,740.5L341.2,740.5M333.1,740.5L336.3,740.5M333.1,740.5L341.2,740.5M336.3,740.5L341.2,740.5M278.7,707.3L295.0,740.5M278.7,707.3L312.0,740.5M265.4,690.3L295.0,740.5M265.4,690.3L312.0,740.5" stroke="#404040" stroke-width="0.38" fill="none"/>
<polygon points="282.3,661.8 294.0,653.7 309.9,648.0 324.7,652.9 334.2,659.6 339.9,666.4 336.3,679.1 339.9,691.4 339.5,702.0 333.1,713.0 324.7,719.3 309.9,721.4 295.0,718.5 285.5,712.1 279.2,700.3 271.8,691.8 271.3,679.7 276.0,668.5" fill="#414141" stroke="#414141" stroke-width="2" stroke-linejoin="round"/>
<circle cx="285.5" cy="661.8" r="1.75" fill="#0026ff"/>
<circle cx="288.3" cy="664.9" r="1.75" fill="#ccff00"/>
<circle cx="284.0" cy="667.0" r="1.75" fill="#00ff1a"/>
<circle cx="295.5" cy="662.8" r="1.75" fill="#ff4d00"/>
<circle cx="297.6" cy="663.9" r="1.75" fill="#00ff1a"/>
<circle cx="300.3" cy="665.6" r="1.75" fill="#8000ff"/>
<circle cx="299.3" cy="669.8" r="1.75" fill="#00ff1a"/>
<circle cx="296.7" cy="672.3" r="1.75" fill="#ccff00"/>
<circle cx="301.8" cy="659.2" r="1.75" fill="#ccff00"/>
<circle cx="303.9" cy="659.6" r="1.75" fill="#ff9900"/>
<circle cx="310.9" cy="661.8" r="1.75" fill="#0026ff"/>
<circle cx="313.0" cy="667.0" r="1.75" fill="#8000ff"/>
<circle cx="315.8" cy="668.7" r="1.75" fill="#00ff1a"/>
<circle cx="320.0" cy="667.0" r="1.75" fill="#0026ff"/>
<circle cx="325.1" cy="669.2" r="1.75" fill="#00ffcc"/>
<circle cx="322.6" cy="672.8" r="1.75" fill="#8000ff"/>
<circle cx="312.0" cy="674.5" r="1.75" fill="#00ff1a"/>
<circle cx="315.1" cy="677.0" r="1.75" fill="#0026ff"/>
<circle cx="316.6" cy="677.8" r="1.75" fill="#8000ff"/>
<circle cx="314.5" cy="681.9" r="1.75" fill="#ff0000"/>
<circle cx="298.2" cy="678.7" r="1.75" fill="#ff9900"/>
<circle cx="296.7" cy="681.4" r="1.75" fill="#ff0000"/>
<circle cx="295.0" cy="685.5" r="1.75" fill="#00ff80"/>
<circle cx="291.4" cy="686.7" r="1.75" fill="#ffe600"/>
<circle cx="302.0" cy="684.4" r="1.75" fill="#0099ff"/>
<circle cx="278.1" cy="672.3" r="1.75" fill="#ffe600"/>
<circle cx="279.8" cy="674.5" r="1.75" fill="#ff9900"/>
<circle cx="276.0" cy="676.1" r="1.75" fill="#ffe600"/>
<circle cx="278.7" cy="677.0" r="1.75" fill="#00e6ff"/>
<circle cx="274.9" cy="680.4" r="1.75" fill="#ccff00"/>
<circle cx="271.3" cy="681.2" r="1.75" fill="#ff00e6"/>
<circle cx="273.4" cy="684.6" r="1.75" fill="#00ff1a"/>
<circle cx="274.9" cy="689.3" r="1.75" fill="#0099ff"/>
<circle cx="278.1" cy="690.3" r="1.75" fill="#ff9900"/>
<circle cx="271.8" cy="689.7" r="1.75" fill="#ff4d00"/>
<circle cx="278.7" cy="693.9" r="1.75" fill="#0026ff"/>
<circle cx="282.3" cy="696.7" r="1.75" fill="#00ffcc"/>
<circle cx="285.5" cy="694.6" r="1.75" fill="#ff4d00"/>
<circle cx="290.4" cy="692.4" r="1.75" fill="#ff0000"/>
<circle cx="295.5" cy="705.1" r="1.75" fill="#ff0000"/>
<circle cx="295.0" cy="708.7" r="1.75" fill="#ff0000"/>
<circle cx="290.4" cy="712.6" r="1.75" fill="#00e6ff"/>
<circle cx="296.1" cy="715.7" r="1.75" fill="#8000ff"/>
<circle cx="298.2" cy="715.1" r="1.75" fill="#0026ff"/>
<circle cx="303.1" cy="714.3" r="1.75" fill="#0099ff"/>
<circle cx="304.6" cy="715.7" r="1.75" fill="#8000ff"/>
<circle cx="306.0" cy="716.8" r="1.75" fill="#ff00e6"/>
<circle cx="306.0" cy="705.8" r="1.75" fill="#8000ff"/>
<circle cx="309.9" cy="708.7" r="1.75" fill="#ffe600"/>
<circle cx="311.5" cy="716.2" r="1.75" fill="#00ff1a"/>
<circle cx="315.8" cy="717.2" r="1.75" fill="#00ff1a"/>
<circle cx="320.4" cy="715.3" r="1.75" fill="#00ff80"/>
<circle cx="326.4" cy="714.3" r="1.75" fill="#00ff1a"/>
<circle cx="318.3" cy="712.1" r="1.75" fill="#ff9900"/>
<circle cx="323.6" cy="710.4" r="1.75" fill="#ccff00"/>
<circle cx="326.2" cy="709.4" r="1.75" fill="#ff00e6"/>
<circle cx="326.4" cy="705.1" r="1.75" fill="#ffe600"/>
<circle cx="330.0" cy="703.7" r="1.75" fill="#00ffcc"/>
<circle cx="327.8" cy="699.9" r="1.75" fill="#ffe600"/>
<circle cx="324.7" cy="697.3" r="1.75" fill="#00ff1a"/>
<circle cx="328.5" cy="698.2" r="1.75" fill="#00e6ff"/>
<circle cx="322.6" cy="696.3" r="1.75" fill="#0026ff"/>
<circle cx="317.3" cy="694.6" r="1.75" fill="#00ff1a"/>
<circle cx="326.2" cy="691.8" r="1.75" fill="#8000ff"/>
<circle cx="336.3" cy="679.7" r="1.75" fill="#00ff1a"/>
<circle cx="334.2" cy="684.6" r="1.75" fill="#ff9900"/>
<circle cx="337.8" cy="690.3" r="1.75" fill="#00ff1a"/>
<circle cx="338.4" cy="693.9" r="1.75" fill="#00ff1a"/>
<circle cx="336.3" cy="696.7" r="1.75" fill="#00e6ff"/>
<circle cx="335.7" cy="701.5" r="1.75" fill="#8000ff"/>
<circle cx="247.4" cy="662.8" r="1.75" fill="#ff00e6"/>
<circle cx="249.5" cy="669.2" r="1.75" fill="#00ff1a"/>
<circle cx="245.3" cy="682.9" r="1.75" fill="#00ff1a"/>
<circle cx="270.7" cy="649.5" r="1.75" fill="#00e6ff"/>
<circle cx="278.1" cy="639.5" r="1.75" fill="#00e6ff"/>
<circle cx="278.7" cy="643.8" r="1.75" fill="#ffe600"/>
<circle cx="296.7" cy="640.2" r="1.75" fill="#ff4d00"/>
<circle cx="307.7" cy="636.4" r="1.75" fill="#0026ff"/>
<circle cx="306.0" cy="640.2" r="1.75" fill="#00ffcc"/>
<circle cx="325.1" cy="648.4" r="1.75" fill="#ff9900"/>
<circle cx="332.5" cy="649.7" r="1.75" fill="#ff4d00"/>
<circle cx="329.5" cy="654.3" r="1.75" fill="#0026ff"/>
<circle cx="331.4" cy="655.4" r="1.75" fill="#ff00e6"/>
<circle cx="337.8" cy="660.7" r="1.75" fill="#ff0000"/>
<circle cx="339.5" cy="661.3" r="1.75" fill="#ffe600"/>
<circle cx="370.2" cy="656.5" r="1.75" fill="#0099ff"/>
<circle cx="378.0" cy="661.3" r="1.75" fill="#ff9900"/>
<circle cx="372.9" cy="666.4" r="1.75" fill="#0026ff"/>
<circle cx="359.6" cy="687.2" r="1.75" fill="#ff4d00"/>
<circle cx="366.6" cy="687.6" r="1.75" fill="#0099ff"/>
<circle cx="361.1" cy="691.0" r="1.75" fill="#ff00e6"/>
<circle cx="369.1" cy="698.2" r="1.75" fill="#8000ff"/>
<circle cx="363.4" cy="699.9" r="1.75" fill="#ff4d00"/>
<circle cx="362.4" cy="703.5" r="1.75" fill="#00ff1a"/>
<circle cx="366.0" cy="704.1" r="1.75" fill="#ffe600"/>
<circle cx="362.4" cy="708.7" r="1.75" fill="#ff9900"/>
<circle cx="362.8" cy="713.0" r="1.75" fill="#00ff1a"/>
<circle cx="358.1" cy="729.5" r="1.75" fill="#0026ff"/>
<circle cx="348.0" cy="732.0" r="1.75" fill="#00e6ff"/>
<circle cx="349.7" cy="733.3" r="1.75" fill="#00ff1a"/>
<circle cx="295.0" cy="740.5" r="1.75" fill="#0026ff"/>
<circle cx="312.0" cy="740.5" r="1.75" fill="#ccff00"/>
<circle cx="333.1" cy="740.5" r="1.75" fill="#0026ff"/>
<circle cx="336.3" cy="740.5" r="1.75" fill="#ccff00"/>
<circle cx="341.2" cy="740.5" r="1.75" fill="#8000ff"/>
<circle cx="278.7" cy="707.3" r="1.75" fill="#ffe600"/>
<circle cx="265.4" cy="690.3" r="1.75" fill="#0026ff"/>
<text x="20.20" y="759.60" font-size="17.32" textLength="31.80" lengthAdjust="spacingAndGlyphs" fill="#7f7f7f" stroke="#7f7f7f" stroke-width="0.6">V20-1</text>
<text transform="translate(58.60,759.50) scale(1,1.000)" font-size="18.16" textLength="6.63" lengthAdjust="spacingAndGlyphs" fill="#088a08" stroke="#088a08" stroke-width="0.75" stroke-linejoin="round">C</text>
<text transform="translate(65.43,759.50) scale(1,1.000)" font-size="18.16" textLength="6.63" lengthAdjust="spacingAndGlyphs" fill="#088a08" stroke="#088a08" stroke-width="0.75" stroke-linejoin="round">S</text>
<text transform="translate(72.26,759.50) scale(1,1.000)" font-size="18.16" textLength="6.63" lengthAdjust="spacingAndGlyphs" fill="#000000" stroke="#000000" stroke-width="0.75" stroke-linejoin="round">A</text>
<text transform="translate(79.09,759.50) scale(1,1.000)" font-size="18.16" textLength="6.63" lengthAdjust="spacingAndGlyphs" fill="#0000d8" stroke="#0000d8" stroke-width="0.75" stroke-linejoin="round">R</text>
<text transform="translate(85.92,759.50) scale(1,0.100)" font-size="18.16" textLength="6.63" lengthAdjust="spacingAndGlyphs" fill="#e60000" stroke="#e60000" stroke-width="0.75" stroke-linejoin="round">E</text>
<text transform="translate(85.92,758.20) scale(1,0.220)" font-size="18.16" textLength="6.63" lengthAdjust="spacingAndGlyphs" fill="#0000d8" stroke="#0000d8" stroke-width="0.75" stroke-linejoin="round">K</text>
<text transform="translate(85.92,755.34) scale(1,0.220)" font-size="18.16" textLength="6.63" lengthAdjust="spacingAndGlyphs" fill="#088a08" stroke="#088a08" stroke-width="0.75" stroke-linejoin="round">S</text>
<text transform="translate(85.92,752.48) scale(1,0.420)" font-size="18.16" textLength="6.63" lengthAdjust="spacingAndGlyphs" fill="#000000" stroke="#000000" stroke-width="0.75" stroke-linejoin="round">X</text>
<text transform="translate(92.75,759.50) scale(1,1.000)" font-size="18.16" textLength="6.63" lengthAdjust="spacingAndGlyphs" fill="#088a08" stroke="#088a08" stroke-width="0.75" stroke-linejoin="round">G</text>
<text transform="translate(99.58,759.50) scale(1,1.000)" font-size="18.16" textLength="6.63" lengthAdjust="spacingAndGlyphs" fill="#088a08" stroke="#088a08" stroke-width="0.75" stroke-linejoin="round">G</text>
<rect x="106.71" y="759.00" width="6.03" height="0.5" fill="#088a08"/>
<text transform="translate(113.24,759.50) scale(1,1.000)" font-size="18.16" textLength="6.63" lengthAdjust="spacingAndGlyphs" fill="#800080" stroke="#800080" stroke-width="0.75" stroke-linejoin="round">N</text>
<text transform="translate(120.07,759.50) scale(1,1.000)" font-size="18.16" textLength="6.63" lengthAdjust="spacingAndGlyphs" fill="#088a08" stroke="#088a08" stroke-width="0.75" stroke-linejoin="round">T</text>
<text transform="translate(126.90,759.50) scale(1,1.000)" font-size="18.16" textLength="6.63" lengthAdjust="spacingAndGlyphs" fill="#088a08" stroke="#088a08" stroke-width="0.75" stroke-linejoin="round">G</text>
<text transform="translate(133.73,759.50) scale(1,1.000)" font-size="18.16" textLength="6.63" lengthAdjust="spacingAndGlyphs" fill="#e60000" stroke="#e60000" stroke-width="0.75" stroke-linejoin="round">E</text>
<text transform="translate(140.56,759.50) scale(1,1.000)" font-size="18.16" textLength="6.63" lengthAdjust="spacingAndGlyphs" fill="#000000" stroke="#000000" stroke-width="0.75" stroke-linejoin="round">L</text>
<text transform="translate(147.39,759.50) scale(1,1.000)" font-size="18.16" textLength="6.63" lengthAdjust="spacingAndGlyphs" fill="#000000" stroke="#000000" stroke-width="0.75" stroke-linejoin="round">F</text>
<text transform="translate(154.22,759.50) scale(1,1.000)" font-size="18.16" textLength="6.63" lengthAdjust="spacingAndGlyphs" fill="#000000" stroke="#000000" stroke-width="0.75" stroke-linejoin="round">F</text>
<text x="167.90" y="759.80" font-size="16.48" textLength="32.50" lengthAdjust="spacingAndGlyphs" fill="#9a9a9a" stroke="#9a9a9a" stroke-width="0.2">J2-2</text>
<text x="222.10" y="759.60" font-size="17.32" textLength="31.30" lengthAdjust="spacingAndGlyphs" fill="#7f7f7f" stroke="#7f7f7f" stroke-width="0.6">V20-1</text>
<text transform="translate(260.60,759.50) scale(1,1.000)" font-size="18.16" textLength="6.63" lengthAdjust="spacingAndGlyphs" fill="#088a08" stroke="#088a08" stroke-width="0.75" stroke-linejoin="round">C</text>
<text transform="translate(267.43,759.50) scale(1,1.000)" font-size="18.16" textLength="6.63" lengthAdjust="spacingAndGlyphs" fill="#088a08" stroke="#088a08" stroke-width="0.75" stroke-linejoin="round">S</text>
<text transform="translate(274.26,759.50) scale(1,1.000)" font-size="18.16" textLength="6.63" lengthAdjust="spacingAndGlyphs" fill="#000000" stroke="#000000" stroke-width="0.75" stroke-linejoin="round">A</text>
<text transform="translate(281.09,759.50) scale(1,1.000)" font-size="18.16" textLength="6.63" lengthAdjust="spacingAndGlyphs" fill="#0000d8" stroke="#0000d8" stroke-width="0.75" stroke-linejoin="round">R</text>
<text transform="translate(287.92,759.50) scale(1,1.000)" font-size="18.16" textLength="6.63" lengthAdjust="spacingAndGlyphs" fill="#e60000" stroke="#e60000" stroke-width="0.75" stroke-linejoin="round">D</text>
<text transform="translate(294.75,759.50) scale(1,1.000)" font-size="18.16" textLength="6.63" lengthAdjust="spacingAndGlyphs" fill="#000000" stroke="#000000" stroke-width="0.75" stroke-linejoin="round">L</text>
<text transform="translate(301.58,759.50) scale(1,0.380)" font-size="18.16" textLength="6.63" lengthAdjust="spacingAndGlyphs" fill="#0000d8" stroke="#0000d8" stroke-width="0.75" stroke-linejoin="round">R</text>
<text transform="translate(301.58,754.56) scale(1,0.580)" font-size="18.16" textLength="6.63" lengthAdjust="spacingAndGlyphs" fill="#088a08" stroke="#088a08" stroke-width="0.75" stroke-linejoin="round">G</text>
<text transform="translate(308.41,759.50) scale(1,1.000)" font-size="18.16" textLength="6.63" lengthAdjust="spacingAndGlyphs" fill="#000000" stroke="#000000" stroke-width="0.75" stroke-linejoin="round">L</text>
<text transform="translate(315.24,759.50) scale(1,1.000)" font-size="18.16" textLength="6.63" lengthAdjust="spacingAndGlyphs" fill="#000000" stroke="#000000" stroke-width="0.75" stroke-linejoin="round">A</text>
<text transform="translate(322.07,759.50) scale(1,1.000)" font-size="18.16" textLength="6.63" lengthAdjust="spacingAndGlyphs" fill="#e60000" stroke="#e60000" stroke-width="0.75" stroke-linejoin="round">E</text>
<text transform="translate(328.90,759.50) scale(1,1.000)" font-size="18.16" textLength="6.63" lengthAdjust="spacingAndGlyphs" fill="#e60000" stroke="#e60000" stroke-width="0.75" stroke-linejoin="round">E</text>
<text transform="translate(335.73,759.50) scale(1,1.000)" font-size="18.16" textLength="6.63" lengthAdjust="spacingAndGlyphs" fill="#088a08" stroke="#088a08" stroke-width="0.75" stroke-linejoin="round">T</text>
<text transform="translate(342.56,759.50) scale(1,1.000)" font-size="18.16" textLength="6.63" lengthAdjust="spacingAndGlyphs" fill="#800080" stroke="#800080" stroke-width="0.75" stroke-linejoin="round">Q</text>
<text transform="translate(349.39,759.50) scale(1,1.000)" font-size="18.16" textLength="6.63" lengthAdjust="spacingAndGlyphs" fill="#088a08" stroke="#088a08" stroke-width="0.75" stroke-linejoin="round">Y</text>
<text transform="translate(356.22,759.50) scale(1,1.000)" font-size="18.16" textLength="6.63" lengthAdjust="spacingAndGlyphs" fill="#000000" stroke="#000000" stroke-width="0.75" stroke-linejoin="round">F</text>
<text x="370.20" y="759.80" font-size="16.48" textLength="31.60" lengthAdjust="spacingAndGlyphs" fill="#9a9a9a" stroke="#9a9a9a" stroke-width="0.2">J2-5</text>
</g>
<g id="panelF">
<text x="421.90" y="609.20" text-anchor="start" fill="#000" stroke="#000" stroke-width="0.22" font-size="9.33" >F</text>
<text x="540.00" y="608.30" text-anchor="middle" fill="#000" stroke="#000" stroke-width="0.22" font-size="9.33" >CDR3s in metaclones</text>
<circle cx="527.2" cy="691.6" r="73.2" fill="#ff0000" fill-opacity="0.5"/>
<circle cx="580.55" cy="681.0" r="42.55" fill="#9a9a9a" fill-opacity="0.5"/>
<circle cx="598.2" cy="726.7" r="10.5" fill="#0000ff" fill-opacity="0.5"/>
<path d="M587.6,713.1L592.5,721.2M603.1,710.6L597.2,718.9M581.3,732.2L589.7,725.4" stroke="#111" stroke-width="0.6" fill="none"/>
<text x="508.80" y="694.40" text-anchor="middle" fill="#000" stroke="#000" stroke-width="0.22" font-size="9.33" >1069</text>
<text x="569.40" y="683.60" text-anchor="middle" fill="#000" stroke="#000" stroke-width="0.22" font-size="9.33" >319</text>
<text x="609.30" y="675.00" text-anchor="middle" fill="#000" stroke="#000" stroke-width="0.22" font-size="9.33" >154</text>
<text x="597.40" y="658.20" text-anchor="start" fill="#000" stroke="#000" stroke-width="0.22" font-size="9.33" >GLIPH2</text>
<text x="478.00" y="727.30" text-anchor="start" fill="#000" stroke="#000" stroke-width="0.22" font-size="9.33" >Metaclonotypist</text>
<text x="585.30" y="712.80" text-anchor="middle" fill="#000" stroke="#000" stroke-width="0.22" font-size="9.33" >3</text>
<text x="605.60" y="707.90" text-anchor="middle" fill="#000" stroke="#000" stroke-width="0.22" font-size="9.33" >0</text>
<text x="577.60" y="736.40" text-anchor="middle" fill="#000" stroke="#000" stroke-width="0.22" font-size="9.33" >1</text>
<text x="599.40" y="731.20" text-anchor="middle" fill="#000" stroke="#000" stroke-width="0.22" font-size="9.33" >26</text>
<text x="612.50" y="734.80" text-anchor="start" fill="#000" stroke="#000" stroke-width="0.22" font-size="9.33" >VDJdb</text>
<text x="598.60" y="748.00" text-anchor="start" fill="#000" stroke="#000" stroke-width="0.22" font-size="9.33" >(class 2 Mtb)</text>
</g>
</svg>
</body></html>
